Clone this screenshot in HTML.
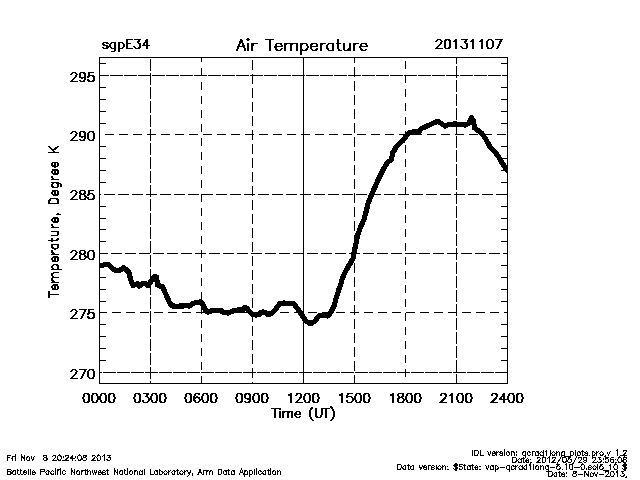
<!DOCTYPE html>
<html><head><meta charset="utf-8"><style>
html,body{margin:0;padding:0;background:#fff;}
svg{display:block;}
text{font-family:"Liberation Sans",sans-serif;fill:#000;}
.h{fill:none;stroke:#000;stroke-width:1;stroke-linecap:square;stroke-linejoin:miter;shape-rendering:crispEdges;}
</style></head><body>
<svg width="640" height="480" viewBox="0 0 640 480">
<rect x="0" y="0" width="640" height="480" fill="#fff"/>
<g fill="#000" shape-rendering="crispEdges">
<rect x="99" y="57" width="409" height="1"/><rect x="99" y="383" width="409" height="1"/><rect x="99" y="57" width="1" height="327"/><rect x="507" y="57" width="1" height="327"/><rect x="100" y="360" width="6" height="1"/><rect x="501" y="360" width="6" height="1"/><rect x="100" y="348" width="6" height="1"/><rect x="501" y="348" width="6" height="1"/><rect x="100" y="336" width="6" height="1"/><rect x="501" y="336" width="6" height="1"/><rect x="100" y="324" width="6" height="1"/><rect x="501" y="324" width="6" height="1"/><rect x="100" y="301" width="6" height="1"/><rect x="501" y="301" width="6" height="1"/><rect x="100" y="289" width="6" height="1"/><rect x="501" y="289" width="6" height="1"/><rect x="100" y="277" width="6" height="1"/><rect x="501" y="277" width="6" height="1"/><rect x="100" y="265" width="6" height="1"/><rect x="501" y="265" width="6" height="1"/><rect x="100" y="241" width="6" height="1"/><rect x="501" y="241" width="6" height="1"/><rect x="100" y="229" width="6" height="1"/><rect x="501" y="229" width="6" height="1"/><rect x="100" y="218" width="6" height="1"/><rect x="501" y="218" width="6" height="1"/><rect x="100" y="206" width="6" height="1"/><rect x="501" y="206" width="6" height="1"/><rect x="100" y="182" width="6" height="1"/><rect x="501" y="182" width="6" height="1"/><rect x="100" y="170" width="6" height="1"/><rect x="501" y="170" width="6" height="1"/><rect x="100" y="158" width="6" height="1"/><rect x="501" y="158" width="6" height="1"/><rect x="100" y="146" width="6" height="1"/><rect x="501" y="146" width="6" height="1"/><rect x="100" y="123" width="6" height="1"/><rect x="501" y="123" width="6" height="1"/><rect x="100" y="111" width="6" height="1"/><rect x="501" y="111" width="6" height="1"/><rect x="100" y="99" width="6" height="1"/><rect x="501" y="99" width="6" height="1"/><rect x="100" y="87" width="6" height="1"/><rect x="501" y="87" width="6" height="1"/><rect x="100" y="63" width="6" height="1"/><rect x="501" y="63" width="6" height="1"/><rect x="100" y="75" width="9" height="1"/><rect x="110" y="75" width="13" height="1"/><rect x="124" y="75" width="13" height="1"/><rect x="138" y="75" width="13" height="1"/><rect x="152" y="75" width="13" height="1"/><rect x="166" y="75" width="13" height="1"/><rect x="180" y="75" width="13" height="1"/><rect x="194" y="75" width="13" height="1"/><rect x="208" y="75" width="13" height="1"/><rect x="222" y="75" width="13" height="1"/><rect x="236" y="75" width="13" height="1"/><rect x="250" y="75" width="13" height="1"/><rect x="264" y="75" width="13" height="1"/><rect x="278" y="75" width="13" height="1"/><rect x="292" y="75" width="13" height="1"/><rect x="306" y="75" width="13" height="1"/><rect x="320" y="75" width="13" height="1"/><rect x="334" y="75" width="13" height="1"/><rect x="348" y="75" width="13" height="1"/><rect x="362" y="75" width="13" height="1"/><rect x="376" y="75" width="13" height="1"/><rect x="390" y="75" width="13" height="1"/><rect x="404" y="75" width="13" height="1"/><rect x="418" y="75" width="13" height="1"/><rect x="432" y="75" width="13" height="1"/><rect x="446" y="75" width="13" height="1"/><rect x="460" y="75" width="13" height="1"/><rect x="474" y="75" width="13" height="1"/><rect x="488" y="75" width="13" height="1"/><rect x="502" y="75" width="5" height="1"/><rect x="105" y="134" width="9" height="1"/><rect x="119" y="134" width="9" height="1"/><rect x="133" y="134" width="9" height="1"/><rect x="147" y="134" width="9" height="1"/><rect x="161" y="134" width="9" height="1"/><rect x="175" y="134" width="9" height="1"/><rect x="189" y="134" width="9" height="1"/><rect x="203" y="134" width="9" height="1"/><rect x="217" y="134" width="9" height="1"/><rect x="231" y="134" width="9" height="1"/><rect x="245" y="134" width="9" height="1"/><rect x="259" y="134" width="9" height="1"/><rect x="273" y="134" width="9" height="1"/><rect x="287" y="134" width="9" height="1"/><rect x="301" y="134" width="9" height="1"/><rect x="315" y="134" width="9" height="1"/><rect x="329" y="134" width="9" height="1"/><rect x="343" y="134" width="9" height="1"/><rect x="357" y="134" width="9" height="1"/><rect x="371" y="134" width="9" height="1"/><rect x="385" y="134" width="9" height="1"/><rect x="399" y="134" width="9" height="1"/><rect x="413" y="134" width="9" height="1"/><rect x="427" y="134" width="9" height="1"/><rect x="441" y="134" width="9" height="1"/><rect x="455" y="134" width="9" height="1"/><rect x="469" y="134" width="9" height="1"/><rect x="483" y="134" width="9" height="1"/><rect x="497" y="134" width="9" height="1"/><rect x="100" y="194" width="1" height="1"/><rect x="104" y="194" width="11" height="1"/><rect x="118" y="194" width="11" height="1"/><rect x="132" y="194" width="11" height="1"/><rect x="146" y="194" width="11" height="1"/><rect x="160" y="194" width="11" height="1"/><rect x="174" y="194" width="11" height="1"/><rect x="188" y="194" width="11" height="1"/><rect x="202" y="194" width="11" height="1"/><rect x="216" y="194" width="11" height="1"/><rect x="230" y="194" width="11" height="1"/><rect x="244" y="194" width="11" height="1"/><rect x="258" y="194" width="11" height="1"/><rect x="272" y="194" width="11" height="1"/><rect x="286" y="194" width="11" height="1"/><rect x="300" y="194" width="11" height="1"/><rect x="314" y="194" width="11" height="1"/><rect x="328" y="194" width="11" height="1"/><rect x="342" y="194" width="11" height="1"/><rect x="356" y="194" width="11" height="1"/><rect x="370" y="194" width="11" height="1"/><rect x="384" y="194" width="11" height="1"/><rect x="398" y="194" width="11" height="1"/><rect x="412" y="194" width="11" height="1"/><rect x="426" y="194" width="11" height="1"/><rect x="440" y="194" width="11" height="1"/><rect x="454" y="194" width="11" height="1"/><rect x="468" y="194" width="11" height="1"/><rect x="482" y="194" width="11" height="1"/><rect x="496" y="194" width="11" height="1"/><rect x="100" y="253" width="8" height="1"/><rect x="111" y="253" width="11" height="1"/><rect x="125" y="253" width="11" height="1"/><rect x="139" y="253" width="11" height="1"/><rect x="153" y="253" width="11" height="1"/><rect x="167" y="253" width="11" height="1"/><rect x="181" y="253" width="11" height="1"/><rect x="195" y="253" width="11" height="1"/><rect x="209" y="253" width="11" height="1"/><rect x="223" y="253" width="11" height="1"/><rect x="237" y="253" width="11" height="1"/><rect x="251" y="253" width="11" height="1"/><rect x="265" y="253" width="11" height="1"/><rect x="279" y="253" width="11" height="1"/><rect x="293" y="253" width="11" height="1"/><rect x="307" y="253" width="11" height="1"/><rect x="321" y="253" width="11" height="1"/><rect x="335" y="253" width="11" height="1"/><rect x="349" y="253" width="11" height="1"/><rect x="363" y="253" width="11" height="1"/><rect x="377" y="253" width="11" height="1"/><rect x="391" y="253" width="11" height="1"/><rect x="405" y="253" width="11" height="1"/><rect x="419" y="253" width="11" height="1"/><rect x="433" y="253" width="11" height="1"/><rect x="447" y="253" width="11" height="1"/><rect x="461" y="253" width="11" height="1"/><rect x="475" y="253" width="11" height="1"/><rect x="489" y="253" width="11" height="1"/><rect x="503" y="253" width="4" height="1"/><rect x="100" y="312" width="7" height="1"/><rect x="112" y="312" width="9" height="1"/><rect x="126" y="312" width="9" height="1"/><rect x="140" y="312" width="9" height="1"/><rect x="154" y="312" width="9" height="1"/><rect x="168" y="312" width="9" height="1"/><rect x="182" y="312" width="9" height="1"/><rect x="196" y="312" width="9" height="1"/><rect x="210" y="312" width="9" height="1"/><rect x="224" y="312" width="9" height="1"/><rect x="238" y="312" width="9" height="1"/><rect x="252" y="312" width="9" height="1"/><rect x="266" y="312" width="9" height="1"/><rect x="280" y="312" width="9" height="1"/><rect x="294" y="312" width="9" height="1"/><rect x="308" y="312" width="9" height="1"/><rect x="322" y="312" width="9" height="1"/><rect x="336" y="312" width="9" height="1"/><rect x="350" y="312" width="9" height="1"/><rect x="364" y="312" width="9" height="1"/><rect x="378" y="312" width="9" height="1"/><rect x="392" y="312" width="9" height="1"/><rect x="406" y="312" width="9" height="1"/><rect x="420" y="312" width="9" height="1"/><rect x="434" y="312" width="9" height="1"/><rect x="448" y="312" width="9" height="1"/><rect x="462" y="312" width="9" height="1"/><rect x="476" y="312" width="9" height="1"/><rect x="490" y="312" width="9" height="1"/><rect x="504" y="312" width="3" height="1"/><rect x="100" y="372" width="2" height="1"/><rect x="103" y="372" width="13" height="1"/><rect x="117" y="372" width="13" height="1"/><rect x="131" y="372" width="13" height="1"/><rect x="145" y="372" width="13" height="1"/><rect x="159" y="372" width="13" height="1"/><rect x="173" y="372" width="13" height="1"/><rect x="187" y="372" width="13" height="1"/><rect x="201" y="372" width="13" height="1"/><rect x="215" y="372" width="13" height="1"/><rect x="229" y="372" width="13" height="1"/><rect x="243" y="372" width="13" height="1"/><rect x="257" y="372" width="13" height="1"/><rect x="271" y="372" width="13" height="1"/><rect x="285" y="372" width="13" height="1"/><rect x="299" y="372" width="13" height="1"/><rect x="313" y="372" width="13" height="1"/><rect x="327" y="372" width="13" height="1"/><rect x="341" y="372" width="13" height="1"/><rect x="355" y="372" width="13" height="1"/><rect x="369" y="372" width="13" height="1"/><rect x="383" y="372" width="13" height="1"/><rect x="397" y="372" width="13" height="1"/><rect x="411" y="372" width="13" height="1"/><rect x="425" y="372" width="13" height="1"/><rect x="439" y="372" width="13" height="1"/><rect x="453" y="372" width="13" height="1"/><rect x="467" y="372" width="13" height="1"/><rect x="481" y="372" width="13" height="1"/><rect x="495" y="372" width="12" height="1"/><rect x="150" y="59" width="1" height="12"/><rect x="150" y="73" width="1" height="12"/><rect x="150" y="87" width="1" height="12"/><rect x="150" y="101" width="1" height="12"/><rect x="150" y="115" width="1" height="12"/><rect x="150" y="129" width="1" height="12"/><rect x="150" y="143" width="1" height="12"/><rect x="150" y="157" width="1" height="12"/><rect x="150" y="171" width="1" height="12"/><rect x="150" y="185" width="1" height="12"/><rect x="150" y="199" width="1" height="12"/><rect x="150" y="213" width="1" height="12"/><rect x="150" y="227" width="1" height="12"/><rect x="150" y="241" width="1" height="12"/><rect x="150" y="255" width="1" height="12"/><rect x="150" y="269" width="1" height="12"/><rect x="150" y="283" width="1" height="12"/><rect x="150" y="297" width="1" height="12"/><rect x="150" y="311" width="1" height="12"/><rect x="150" y="325" width="1" height="12"/><rect x="150" y="339" width="1" height="12"/><rect x="150" y="353" width="1" height="12"/><rect x="150" y="367" width="1" height="12"/><rect x="150" y="381" width="1" height="2"/><rect x="201" y="58" width="1" height="4"/><rect x="201" y="68" width="1" height="8"/><rect x="201" y="82" width="1" height="8"/><rect x="201" y="96" width="1" height="8"/><rect x="201" y="110" width="1" height="8"/><rect x="201" y="124" width="1" height="8"/><rect x="201" y="138" width="1" height="8"/><rect x="201" y="152" width="1" height="8"/><rect x="201" y="166" width="1" height="8"/><rect x="201" y="180" width="1" height="8"/><rect x="201" y="194" width="1" height="8"/><rect x="201" y="208" width="1" height="8"/><rect x="201" y="222" width="1" height="8"/><rect x="201" y="236" width="1" height="8"/><rect x="201" y="250" width="1" height="8"/><rect x="201" y="264" width="1" height="8"/><rect x="201" y="278" width="1" height="8"/><rect x="201" y="292" width="1" height="8"/><rect x="201" y="306" width="1" height="8"/><rect x="201" y="320" width="1" height="8"/><rect x="201" y="334" width="1" height="8"/><rect x="201" y="348" width="1" height="8"/><rect x="201" y="362" width="1" height="8"/><rect x="201" y="376" width="1" height="7"/><rect x="252" y="60" width="1" height="10"/><rect x="252" y="74" width="1" height="10"/><rect x="252" y="88" width="1" height="10"/><rect x="252" y="102" width="1" height="10"/><rect x="252" y="116" width="1" height="10"/><rect x="252" y="130" width="1" height="10"/><rect x="252" y="144" width="1" height="10"/><rect x="252" y="158" width="1" height="10"/><rect x="252" y="172" width="1" height="10"/><rect x="252" y="186" width="1" height="10"/><rect x="252" y="200" width="1" height="10"/><rect x="252" y="214" width="1" height="10"/><rect x="252" y="228" width="1" height="10"/><rect x="252" y="242" width="1" height="10"/><rect x="252" y="256" width="1" height="10"/><rect x="252" y="270" width="1" height="10"/><rect x="252" y="284" width="1" height="10"/><rect x="252" y="298" width="1" height="10"/><rect x="252" y="312" width="1" height="10"/><rect x="252" y="326" width="1" height="10"/><rect x="252" y="340" width="1" height="10"/><rect x="252" y="354" width="1" height="10"/><rect x="252" y="368" width="1" height="10"/><rect x="252" y="382" width="1" height="1"/><rect x="354" y="58" width="1" height="5"/><rect x="354" y="67" width="1" height="10"/><rect x="354" y="81" width="1" height="10"/><rect x="354" y="95" width="1" height="10"/><rect x="354" y="109" width="1" height="10"/><rect x="354" y="123" width="1" height="10"/><rect x="354" y="137" width="1" height="10"/><rect x="354" y="151" width="1" height="10"/><rect x="354" y="165" width="1" height="10"/><rect x="354" y="179" width="1" height="10"/><rect x="354" y="193" width="1" height="10"/><rect x="354" y="207" width="1" height="10"/><rect x="354" y="221" width="1" height="10"/><rect x="354" y="235" width="1" height="10"/><rect x="354" y="249" width="1" height="10"/><rect x="354" y="263" width="1" height="10"/><rect x="354" y="277" width="1" height="10"/><rect x="354" y="291" width="1" height="10"/><rect x="354" y="305" width="1" height="10"/><rect x="354" y="319" width="1" height="10"/><rect x="354" y="333" width="1" height="10"/><rect x="354" y="347" width="1" height="10"/><rect x="354" y="361" width="1" height="10"/><rect x="354" y="375" width="1" height="8"/><rect x="405" y="61" width="1" height="8"/><rect x="405" y="75" width="1" height="8"/><rect x="405" y="89" width="1" height="8"/><rect x="405" y="103" width="1" height="8"/><rect x="405" y="117" width="1" height="8"/><rect x="405" y="131" width="1" height="8"/><rect x="405" y="145" width="1" height="8"/><rect x="405" y="159" width="1" height="8"/><rect x="405" y="173" width="1" height="8"/><rect x="405" y="187" width="1" height="8"/><rect x="405" y="201" width="1" height="8"/><rect x="405" y="215" width="1" height="8"/><rect x="405" y="229" width="1" height="8"/><rect x="405" y="243" width="1" height="8"/><rect x="405" y="257" width="1" height="8"/><rect x="405" y="271" width="1" height="8"/><rect x="405" y="285" width="1" height="8"/><rect x="405" y="299" width="1" height="8"/><rect x="405" y="313" width="1" height="8"/><rect x="405" y="327" width="1" height="8"/><rect x="405" y="341" width="1" height="8"/><rect x="405" y="355" width="1" height="8"/><rect x="405" y="369" width="1" height="8"/><rect x="456" y="58" width="1" height="6"/><rect x="456" y="66" width="1" height="12"/><rect x="456" y="80" width="1" height="12"/><rect x="456" y="94" width="1" height="12"/><rect x="456" y="108" width="1" height="12"/><rect x="456" y="122" width="1" height="12"/><rect x="456" y="136" width="1" height="12"/><rect x="456" y="150" width="1" height="12"/><rect x="456" y="164" width="1" height="12"/><rect x="456" y="178" width="1" height="12"/><rect x="456" y="192" width="1" height="12"/><rect x="456" y="206" width="1" height="12"/><rect x="456" y="220" width="1" height="12"/><rect x="456" y="234" width="1" height="12"/><rect x="456" y="248" width="1" height="12"/><rect x="456" y="262" width="1" height="12"/><rect x="456" y="276" width="1" height="12"/><rect x="456" y="290" width="1" height="12"/><rect x="456" y="304" width="1" height="12"/><rect x="456" y="318" width="1" height="12"/><rect x="456" y="332" width="1" height="12"/><rect x="456" y="346" width="1" height="12"/><rect x="456" y="360" width="1" height="12"/><rect x="456" y="374" width="1" height="9"/><rect x="303" y="57" width="1" height="327"/>
</g>
<defs><clipPath id="pc"><rect x="99" y="57" width="409" height="327"/></clipPath></defs>
<polyline clip-path="url(#pc)" points="99.5,265 102,265.7 105.5,264.3 108.4,264.3 111.3,267.5 114.7,270 118,270.8 120.5,270 123.5,267.5 126.5,270 129,272.5 130,277 131.5,282.5 133,285.5 134.7,284.6 137.6,283.75 139,286 141,285 143,283.5 146,284 148,285.5 150,283 152,279.5 154,277 156.5,277 157.5,285 160,286 162.5,286.5 164,290 167,297 170,303.5 172.5,306 176,306.2 182,306 186,305.8 190,306 192.5,303.5 196,302.5 200,302 201,302.5 203,304.5 204.5,308 206,311 208,312 210,311.5 212,310.5 218,310.8 222,311 224,312.5 228,313 233,311 238,310 243,309.5 245,307.5 247,308.5 250,312 252,314 256,315 259,314.5 261,312.5 263,312 265,312.2 267,314 270,314 272,313 275,310 278,306 280,303.5 284,303 290,303.5 294,304 297,308 300,312 303,317 306,321 309,323 312,323 315,321 318,317 320,315.5 322,315.5 328,316 329,315 331,312 334,306 336.5,297 338.75,290 340.5,285 342.5,278 345.6,271.25 349.2,265 353,258.75 354,252.5 355.3,247 356.5,241 358.1,233.8 361,226 364.2,218.9 366.5,210 368.3,202.6 372.4,193 376.2,184 379.8,176.7 384,168.3 387.6,162.1 391.3,160 392.8,152.7 396.5,146.5 400.6,142.3 403.25,140.2 406.25,135.8 410,132.5 415,131.7 418.3,132.5 421.7,128.3 425,127 428.3,125.5 432.5,123.5 437.5,121.3 441,123.3 445,126 449,124.3 456,124 465,125 469,123.3 471.5,117.5 473.5,121 474.5,128 478,130.4 482,133.5 486,139.5 490,147 494,150.7 498,155.8 502,163 507,170" fill="none" stroke="#000" stroke-width="5.2" stroke-linejoin="round" stroke-linecap="round" shape-rendering="crispEdges"/>
<g>
<g><path d="M107.68 43.83 L107.26 42.98 L105.98 42.55 L104.70 42.55 L103.43 42.98 L103.01 43.83 L103.43 44.67 L104.28 45.10 L106.41 45.52 L107.26 45.95 L107.68 46.80 L107.68 47.23 L107.26 48.08 L105.98 48.50 L104.70 48.50 L103.43 48.08 L103.01 47.23 M115.33 42.55 L115.33 49.35 L114.91 50.62 L114.48 51.05 L113.63 51.48 L112.36 51.48 L111.51 51.05 M115.33 43.83 L114.48 42.98 L113.63 42.55 L112.36 42.55 L111.51 42.98 L110.66 43.83 L110.23 45.10 L110.23 45.95 L110.66 47.23 L111.51 48.08 L112.36 48.50 L113.63 48.50 L114.48 48.08 L115.33 47.23 M118.73 42.55 L118.73 51.48 M118.73 43.83 L119.58 42.98 L120.43 42.55 L121.70 42.55 L122.56 42.98 L123.41 43.83 L123.83 45.10 L123.83 45.95 L123.41 47.23 L122.56 48.08 L121.70 48.50 L120.43 48.50 L119.58 48.08 L118.73 47.23 M126.81 39.58 L126.81 48.50 M126.81 39.58 L132.33 39.58 M126.81 43.83 L130.21 43.83 M126.81 48.50 L132.33 48.50 M135.31 39.58 L139.98 39.58 L137.43 42.98 L138.71 42.98 L139.56 43.40 L139.98 43.83 L140.41 45.10 L140.41 45.95 L139.98 47.23 L139.13 48.08 L137.86 48.50 L136.58 48.50 L135.31 48.08 L134.88 47.65 L134.46 46.80 M147.21 39.58 L142.96 45.52 L149.33 45.52 M147.21 39.58 L147.21 48.50" transform="translate(-0.5,0)" class="h"/><path d="M107.68 43.83 L107.26 42.98 L105.98 42.55 L104.70 42.55 L103.43 42.98 L103.01 43.83 L103.43 44.67 L104.28 45.10 L106.41 45.52 L107.26 45.95 L107.68 46.80 L107.68 47.23 L107.26 48.08 L105.98 48.50 L104.70 48.50 L103.43 48.08 L103.01 47.23 M115.33 42.55 L115.33 49.35 L114.91 50.62 L114.48 51.05 L113.63 51.48 L112.36 51.48 L111.51 51.05 M115.33 43.83 L114.48 42.98 L113.63 42.55 L112.36 42.55 L111.51 42.98 L110.66 43.83 L110.23 45.10 L110.23 45.95 L110.66 47.23 L111.51 48.08 L112.36 48.50 L113.63 48.50 L114.48 48.08 L115.33 47.23 M118.73 42.55 L118.73 51.48 M118.73 43.83 L119.58 42.98 L120.43 42.55 L121.70 42.55 L122.56 42.98 L123.41 43.83 L123.83 45.10 L123.83 45.95 L123.41 47.23 L122.56 48.08 L121.70 48.50 L120.43 48.50 L119.58 48.08 L118.73 47.23 M126.81 39.58 L126.81 48.50 M126.81 39.58 L132.33 39.58 M126.81 43.83 L130.21 43.83 M126.81 48.50 L132.33 48.50 M135.31 39.58 L139.98 39.58 L137.43 42.98 L138.71 42.98 L139.56 43.40 L139.98 43.83 L140.41 45.10 L140.41 45.95 L139.98 47.23 L139.13 48.08 L137.86 48.50 L136.58 48.50 L135.31 48.08 L134.88 47.65 L134.46 46.80 M147.21 39.58 L142.96 45.52 L149.33 45.52 M147.21 39.58 L147.21 48.50" transform="translate(0.5,0)" class="h"/></g><g><path d="M241.21 39.43 L237.00 50.50 M241.21 39.43 L245.43 50.50 M238.58 46.81 L243.85 46.81 M247.54 39.43 L248.06 39.96 L248.59 39.43 L248.06 38.91 L247.54 39.43 M248.06 43.12 L248.06 50.50 M252.28 43.12 L252.28 50.50 M252.28 46.28 L252.81 44.70 L253.86 43.65 L254.91 43.12 L256.50 43.12 M269.67 39.43 L269.67 50.50 M265.98 39.43 L273.36 39.43 M275.47 46.28 L281.79 46.28 L281.79 45.23 L281.26 44.18 L280.74 43.65 L279.68 43.12 L278.10 43.12 L277.05 43.65 L276.00 44.70 L275.47 46.28 L275.47 47.34 L276.00 48.92 L277.05 49.97 L278.10 50.50 L279.68 50.50 L280.74 49.97 L281.79 48.92 M285.48 43.12 L285.48 50.50 M285.48 45.23 L287.06 43.65 L288.12 43.12 L289.70 43.12 L290.75 43.65 L291.28 45.23 L291.28 50.50 M291.28 45.23 L292.86 43.65 L293.91 43.12 L295.49 43.12 L296.55 43.65 L297.07 45.23 L297.07 50.50 M301.29 43.12 L301.29 54.19 M301.29 44.70 L302.35 43.65 L303.40 43.12 L304.98 43.12 L306.03 43.65 L307.09 44.70 L307.62 46.28 L307.62 47.34 L307.09 48.92 L306.03 49.97 L304.98 50.50 L303.40 50.50 L302.35 49.97 L301.29 48.92 M310.78 46.28 L317.10 46.28 L317.10 45.23 L316.57 44.18 L316.05 43.65 L314.99 43.12 L313.41 43.12 L312.36 43.65 L311.30 44.70 L310.78 46.28 L310.78 47.34 L311.30 48.92 L312.36 49.97 L313.41 50.50 L314.99 50.50 L316.05 49.97 L317.10 48.92 M320.79 43.12 L320.79 50.50 M320.79 46.28 L321.32 44.70 L322.37 43.65 L323.43 43.12 L325.01 43.12 M333.44 43.12 L333.44 50.50 M333.44 44.70 L332.38 43.65 L331.33 43.12 L329.75 43.12 L328.69 43.65 L327.64 44.70 L327.11 46.28 L327.11 47.34 L327.64 48.92 L328.69 49.97 L329.75 50.50 L331.33 50.50 L332.38 49.97 L333.44 48.92 M338.18 39.43 L338.18 48.39 L338.71 49.97 L339.76 50.50 L340.82 50.50 M336.60 43.12 L340.29 43.12 M343.98 43.12 L343.98 48.39 L344.50 49.97 L345.56 50.50 L347.14 50.50 L348.19 49.97 L349.77 48.39 M349.77 43.12 L349.77 50.50 M353.99 43.12 L353.99 50.50 M353.99 46.28 L354.52 44.70 L355.57 43.65 L356.63 43.12 L358.21 43.12 M360.31 46.28 L366.64 46.28 L366.64 45.23 L366.11 44.18 L365.59 43.65 L364.53 43.12 L362.95 43.12 L361.90 43.65 L360.84 44.70 L360.31 46.28 L360.31 47.34 L360.84 48.92 L361.90 49.97 L362.95 50.50 L364.53 50.50 L365.59 49.97 L366.64 48.92" transform="translate(-0.5,0)" class="h"/><path d="M241.21 39.43 L237.00 50.50 M241.21 39.43 L245.43 50.50 M238.58 46.81 L243.85 46.81 M247.54 39.43 L248.06 39.96 L248.59 39.43 L248.06 38.91 L247.54 39.43 M248.06 43.12 L248.06 50.50 M252.28 43.12 L252.28 50.50 M252.28 46.28 L252.81 44.70 L253.86 43.65 L254.91 43.12 L256.50 43.12 M269.67 39.43 L269.67 50.50 M265.98 39.43 L273.36 39.43 M275.47 46.28 L281.79 46.28 L281.79 45.23 L281.26 44.18 L280.74 43.65 L279.68 43.12 L278.10 43.12 L277.05 43.65 L276.00 44.70 L275.47 46.28 L275.47 47.34 L276.00 48.92 L277.05 49.97 L278.10 50.50 L279.68 50.50 L280.74 49.97 L281.79 48.92 M285.48 43.12 L285.48 50.50 M285.48 45.23 L287.06 43.65 L288.12 43.12 L289.70 43.12 L290.75 43.65 L291.28 45.23 L291.28 50.50 M291.28 45.23 L292.86 43.65 L293.91 43.12 L295.49 43.12 L296.55 43.65 L297.07 45.23 L297.07 50.50 M301.29 43.12 L301.29 54.19 M301.29 44.70 L302.35 43.65 L303.40 43.12 L304.98 43.12 L306.03 43.65 L307.09 44.70 L307.62 46.28 L307.62 47.34 L307.09 48.92 L306.03 49.97 L304.98 50.50 L303.40 50.50 L302.35 49.97 L301.29 48.92 M310.78 46.28 L317.10 46.28 L317.10 45.23 L316.57 44.18 L316.05 43.65 L314.99 43.12 L313.41 43.12 L312.36 43.65 L311.30 44.70 L310.78 46.28 L310.78 47.34 L311.30 48.92 L312.36 49.97 L313.41 50.50 L314.99 50.50 L316.05 49.97 L317.10 48.92 M320.79 43.12 L320.79 50.50 M320.79 46.28 L321.32 44.70 L322.37 43.65 L323.43 43.12 L325.01 43.12 M333.44 43.12 L333.44 50.50 M333.44 44.70 L332.38 43.65 L331.33 43.12 L329.75 43.12 L328.69 43.65 L327.64 44.70 L327.11 46.28 L327.11 47.34 L327.64 48.92 L328.69 49.97 L329.75 50.50 L331.33 50.50 L332.38 49.97 L333.44 48.92 M338.18 39.43 L338.18 48.39 L338.71 49.97 L339.76 50.50 L340.82 50.50 M336.60 43.12 L340.29 43.12 M343.98 43.12 L343.98 48.39 L344.50 49.97 L345.56 50.50 L347.14 50.50 L348.19 49.97 L349.77 48.39 M349.77 43.12 L349.77 50.50 M353.99 43.12 L353.99 50.50 M353.99 46.28 L354.52 44.70 L355.57 43.65 L356.63 43.12 L358.21 43.12 M360.31 46.28 L366.64 46.28 L366.64 45.23 L366.11 44.18 L365.59 43.65 L364.53 43.12 L362.95 43.12 L361.90 43.65 L360.84 44.70 L360.31 46.28 L360.31 47.34 L360.84 48.92 L361.90 49.97 L362.95 50.50 L364.53 50.50 L365.59 49.97 L366.64 48.92" transform="translate(0.5,0)" class="h"/></g><g><path d="M436.43 41.70 L436.43 41.27 L436.86 40.42 L437.28 40.00 L438.13 39.58 L439.83 39.58 L440.68 40.00 L441.11 40.42 L441.53 41.27 L441.53 42.12 L441.11 42.98 L440.25 44.25 L436.00 48.50 L441.96 48.50 M447.06 39.58 L445.78 40.00 L444.93 41.27 L444.50 43.40 L444.50 44.67 L444.93 46.80 L445.78 48.08 L447.06 48.50 L447.91 48.50 L449.18 48.08 L450.03 46.80 L450.46 44.67 L450.46 43.40 L450.03 41.27 L449.18 40.00 L447.91 39.58 L447.06 39.58 M454.28 41.27 L455.13 40.85 L456.41 39.58 L456.41 48.50 M462.36 39.58 L467.03 39.58 L464.48 42.98 L465.75 42.98 L466.61 43.40 L467.03 43.83 L467.46 45.10 L467.46 45.95 L467.03 47.23 L466.18 48.08 L464.91 48.50 L463.63 48.50 L462.36 48.08 L461.93 47.65 L461.50 46.80 M471.28 41.27 L472.13 40.85 L473.41 39.58 L473.41 48.50 M479.78 41.27 L480.63 40.85 L481.91 39.58 L481.91 48.50 M489.56 39.58 L488.28 40.00 L487.43 41.27 L487.00 43.40 L487.00 44.67 L487.43 46.80 L488.28 48.08 L489.56 48.50 L490.41 48.50 L491.68 48.08 L492.53 46.80 L492.96 44.67 L492.96 43.40 L492.53 41.27 L491.68 40.00 L490.41 39.58 L489.56 39.58 M501.46 39.58 L497.21 48.50 M495.50 39.58 L501.46 39.58" transform="translate(-0.5,0)" class="h"/><path d="M436.43 41.70 L436.43 41.27 L436.86 40.42 L437.28 40.00 L438.13 39.58 L439.83 39.58 L440.68 40.00 L441.11 40.42 L441.53 41.27 L441.53 42.12 L441.11 42.98 L440.25 44.25 L436.00 48.50 L441.96 48.50 M447.06 39.58 L445.78 40.00 L444.93 41.27 L444.50 43.40 L444.50 44.67 L444.93 46.80 L445.78 48.08 L447.06 48.50 L447.91 48.50 L449.18 48.08 L450.03 46.80 L450.46 44.67 L450.46 43.40 L450.03 41.27 L449.18 40.00 L447.91 39.58 L447.06 39.58 M454.28 41.27 L455.13 40.85 L456.41 39.58 L456.41 48.50 M462.36 39.58 L467.03 39.58 L464.48 42.98 L465.75 42.98 L466.61 43.40 L467.03 43.83 L467.46 45.10 L467.46 45.95 L467.03 47.23 L466.18 48.08 L464.91 48.50 L463.63 48.50 L462.36 48.08 L461.93 47.65 L461.50 46.80 M471.28 41.27 L472.13 40.85 L473.41 39.58 L473.41 48.50 M479.78 41.27 L480.63 40.85 L481.91 39.58 L481.91 48.50 M489.56 39.58 L488.28 40.00 L487.43 41.27 L487.00 43.40 L487.00 44.67 L487.43 46.80 L488.28 48.08 L489.56 48.50 L490.41 48.50 L491.68 48.08 L492.53 46.80 L492.96 44.67 L492.96 43.40 L492.53 41.27 L491.68 40.00 L490.41 39.58 L489.56 39.58 M501.46 39.58 L497.21 48.50 M495.50 39.58 L501.46 39.58" transform="translate(0.5,0)" class="h"/></g><g><path d="M71.43 74.67 L71.43 74.24 L71.86 73.39 L72.28 72.96 L73.14 72.53 L74.84 72.53 L75.70 72.96 L76.12 73.39 L76.55 74.24 L76.55 75.09 L76.12 75.95 L75.27 77.23 L71.00 81.50 L76.98 81.50 M85.09 75.52 L84.66 76.80 L83.81 77.66 L82.53 78.08 L82.10 78.08 L80.82 77.66 L79.97 76.80 L79.54 75.52 L79.54 75.09 L79.97 73.81 L80.82 72.96 L82.10 72.53 L82.53 72.53 L83.81 72.96 L84.66 73.81 L85.09 75.52 L85.09 77.66 L84.66 79.79 L83.81 81.07 L82.53 81.50 L81.68 81.50 L80.39 81.07 L79.97 80.22 M93.20 72.53 L88.94 72.53 L88.51 76.38 L88.94 75.95 L90.22 75.52 L91.50 75.52 L92.78 75.95 L93.63 76.80 L94.06 78.08 L94.06 78.94 L93.63 80.22 L92.78 81.07 L91.50 81.50 L90.22 81.50 L88.94 81.07 L88.51 80.65 L88.08 79.79" transform="translate(-0.5,0)" class="h"/><path d="M71.43 74.67 L71.43 74.24 L71.86 73.39 L72.28 72.96 L73.14 72.53 L74.84 72.53 L75.70 72.96 L76.12 73.39 L76.55 74.24 L76.55 75.09 L76.12 75.95 L75.27 77.23 L71.00 81.50 L76.98 81.50 M85.09 75.52 L84.66 76.80 L83.81 77.66 L82.53 78.08 L82.10 78.08 L80.82 77.66 L79.97 76.80 L79.54 75.52 L79.54 75.09 L79.97 73.81 L80.82 72.96 L82.10 72.53 L82.53 72.53 L83.81 72.96 L84.66 73.81 L85.09 75.52 L85.09 77.66 L84.66 79.79 L83.81 81.07 L82.53 81.50 L81.68 81.50 L80.39 81.07 L79.97 80.22 M93.20 72.53 L88.94 72.53 L88.51 76.38 L88.94 75.95 L90.22 75.52 L91.50 75.52 L92.78 75.95 L93.63 76.80 L94.06 78.08 L94.06 78.94 L93.63 80.22 L92.78 81.07 L91.50 81.50 L90.22 81.50 L88.94 81.07 L88.51 80.65 L88.08 79.79" transform="translate(0.5,0)" class="h"/></g><g><path d="M71.43 133.67 L71.43 133.24 L71.86 132.39 L72.28 131.96 L73.14 131.53 L74.84 131.53 L75.70 131.96 L76.12 132.39 L76.55 133.24 L76.55 134.09 L76.12 134.95 L75.27 136.23 L71.00 140.50 L76.98 140.50 M85.09 134.52 L84.66 135.80 L83.81 136.66 L82.53 137.08 L82.10 137.08 L80.82 136.66 L79.97 135.80 L79.54 134.52 L79.54 134.09 L79.97 132.81 L80.82 131.96 L82.10 131.53 L82.53 131.53 L83.81 131.96 L84.66 132.81 L85.09 134.52 L85.09 136.66 L84.66 138.79 L83.81 140.07 L82.53 140.50 L81.68 140.50 L80.39 140.07 L79.97 139.22 M90.64 131.53 L89.36 131.96 L88.51 133.24 L88.08 135.38 L88.08 136.66 L88.51 138.79 L89.36 140.07 L90.64 140.50 L91.50 140.50 L92.78 140.07 L93.63 138.79 L94.06 136.66 L94.06 135.38 L93.63 133.24 L92.78 131.96 L91.50 131.53 L90.64 131.53" transform="translate(-0.5,0)" class="h"/><path d="M71.43 133.67 L71.43 133.24 L71.86 132.39 L72.28 131.96 L73.14 131.53 L74.84 131.53 L75.70 131.96 L76.12 132.39 L76.55 133.24 L76.55 134.09 L76.12 134.95 L75.27 136.23 L71.00 140.50 L76.98 140.50 M85.09 134.52 L84.66 135.80 L83.81 136.66 L82.53 137.08 L82.10 137.08 L80.82 136.66 L79.97 135.80 L79.54 134.52 L79.54 134.09 L79.97 132.81 L80.82 131.96 L82.10 131.53 L82.53 131.53 L83.81 131.96 L84.66 132.81 L85.09 134.52 L85.09 136.66 L84.66 138.79 L83.81 140.07 L82.53 140.50 L81.68 140.50 L80.39 140.07 L79.97 139.22 M90.64 131.53 L89.36 131.96 L88.51 133.24 L88.08 135.38 L88.08 136.66 L88.51 138.79 L89.36 140.07 L90.64 140.50 L91.50 140.50 L92.78 140.07 L93.63 138.79 L94.06 136.66 L94.06 135.38 L93.63 133.24 L92.78 131.96 L91.50 131.53 L90.64 131.53" transform="translate(0.5,0)" class="h"/></g><g><path d="M71.43 192.77 L71.43 192.34 L71.86 191.49 L72.28 191.06 L73.14 190.63 L74.84 190.63 L75.70 191.06 L76.12 191.49 L76.55 192.34 L76.55 193.19 L76.12 194.05 L75.27 195.33 L71.00 199.60 L76.98 199.60 M81.68 190.63 L80.39 191.06 L79.97 191.91 L79.97 192.77 L80.39 193.62 L81.25 194.05 L82.96 194.48 L84.24 194.90 L85.09 195.76 L85.52 196.61 L85.52 197.89 L85.09 198.75 L84.66 199.17 L83.38 199.60 L81.68 199.60 L80.39 199.17 L79.97 198.75 L79.54 197.89 L79.54 196.61 L79.97 195.76 L80.82 194.90 L82.10 194.48 L83.81 194.05 L84.66 193.62 L85.09 192.77 L85.09 191.91 L84.66 191.06 L83.38 190.63 L81.68 190.63 M93.20 190.63 L88.94 190.63 L88.51 194.48 L88.94 194.05 L90.22 193.62 L91.50 193.62 L92.78 194.05 L93.63 194.90 L94.06 196.18 L94.06 197.04 L93.63 198.32 L92.78 199.17 L91.50 199.60 L90.22 199.60 L88.94 199.17 L88.51 198.75 L88.08 197.89" transform="translate(-0.5,0)" class="h"/><path d="M71.43 192.77 L71.43 192.34 L71.86 191.49 L72.28 191.06 L73.14 190.63 L74.84 190.63 L75.70 191.06 L76.12 191.49 L76.55 192.34 L76.55 193.19 L76.12 194.05 L75.27 195.33 L71.00 199.60 L76.98 199.60 M81.68 190.63 L80.39 191.06 L79.97 191.91 L79.97 192.77 L80.39 193.62 L81.25 194.05 L82.96 194.48 L84.24 194.90 L85.09 195.76 L85.52 196.61 L85.52 197.89 L85.09 198.75 L84.66 199.17 L83.38 199.60 L81.68 199.60 L80.39 199.17 L79.97 198.75 L79.54 197.89 L79.54 196.61 L79.97 195.76 L80.82 194.90 L82.10 194.48 L83.81 194.05 L84.66 193.62 L85.09 192.77 L85.09 191.91 L84.66 191.06 L83.38 190.63 L81.68 190.63 M93.20 190.63 L88.94 190.63 L88.51 194.48 L88.94 194.05 L90.22 193.62 L91.50 193.62 L92.78 194.05 L93.63 194.90 L94.06 196.18 L94.06 197.04 L93.63 198.32 L92.78 199.17 L91.50 199.60 L90.22 199.60 L88.94 199.17 L88.51 198.75 L88.08 197.89" transform="translate(0.5,0)" class="h"/></g><g><path d="M71.43 252.67 L71.43 252.24 L71.86 251.39 L72.28 250.96 L73.14 250.53 L74.84 250.53 L75.70 250.96 L76.12 251.39 L76.55 252.24 L76.55 253.09 L76.12 253.95 L75.27 255.23 L71.00 259.50 L76.98 259.50 M81.68 250.53 L80.39 250.96 L79.97 251.81 L79.97 252.67 L80.39 253.52 L81.25 253.95 L82.96 254.38 L84.24 254.80 L85.09 255.66 L85.52 256.51 L85.52 257.79 L85.09 258.65 L84.66 259.07 L83.38 259.50 L81.68 259.50 L80.39 259.07 L79.97 258.65 L79.54 257.79 L79.54 256.51 L79.97 255.66 L80.82 254.80 L82.10 254.38 L83.81 253.95 L84.66 253.52 L85.09 252.67 L85.09 251.81 L84.66 250.96 L83.38 250.53 L81.68 250.53 M90.64 250.53 L89.36 250.96 L88.51 252.24 L88.08 254.38 L88.08 255.66 L88.51 257.79 L89.36 259.07 L90.64 259.50 L91.50 259.50 L92.78 259.07 L93.63 257.79 L94.06 255.66 L94.06 254.38 L93.63 252.24 L92.78 250.96 L91.50 250.53 L90.64 250.53" transform="translate(-0.5,0)" class="h"/><path d="M71.43 252.67 L71.43 252.24 L71.86 251.39 L72.28 250.96 L73.14 250.53 L74.84 250.53 L75.70 250.96 L76.12 251.39 L76.55 252.24 L76.55 253.09 L76.12 253.95 L75.27 255.23 L71.00 259.50 L76.98 259.50 M81.68 250.53 L80.39 250.96 L79.97 251.81 L79.97 252.67 L80.39 253.52 L81.25 253.95 L82.96 254.38 L84.24 254.80 L85.09 255.66 L85.52 256.51 L85.52 257.79 L85.09 258.65 L84.66 259.07 L83.38 259.50 L81.68 259.50 L80.39 259.07 L79.97 258.65 L79.54 257.79 L79.54 256.51 L79.97 255.66 L80.82 254.80 L82.10 254.38 L83.81 253.95 L84.66 253.52 L85.09 252.67 L85.09 251.81 L84.66 250.96 L83.38 250.53 L81.68 250.53 M90.64 250.53 L89.36 250.96 L88.51 252.24 L88.08 254.38 L88.08 255.66 L88.51 257.79 L89.36 259.07 L90.64 259.50 L91.50 259.50 L92.78 259.07 L93.63 257.79 L94.06 255.66 L94.06 254.38 L93.63 252.24 L92.78 250.96 L91.50 250.53 L90.64 250.53" transform="translate(0.5,0)" class="h"/></g><g><path d="M71.43 311.67 L71.43 311.24 L71.86 310.39 L72.28 309.96 L73.14 309.53 L74.84 309.53 L75.70 309.96 L76.12 310.39 L76.55 311.24 L76.55 312.10 L76.12 312.95 L75.27 314.23 L71.00 318.50 L76.98 318.50 M85.52 309.53 L81.25 318.50 M79.54 309.53 L85.52 309.53 M93.20 309.53 L88.94 309.53 L88.51 313.38 L88.94 312.95 L90.22 312.52 L91.50 312.52 L92.78 312.95 L93.63 313.80 L94.06 315.08 L94.06 315.94 L93.63 317.22 L92.78 318.07 L91.50 318.50 L90.22 318.50 L88.94 318.07 L88.51 317.65 L88.08 316.79" transform="translate(-0.5,0)" class="h"/><path d="M71.43 311.67 L71.43 311.24 L71.86 310.39 L72.28 309.96 L73.14 309.53 L74.84 309.53 L75.70 309.96 L76.12 310.39 L76.55 311.24 L76.55 312.10 L76.12 312.95 L75.27 314.23 L71.00 318.50 L76.98 318.50 M85.52 309.53 L81.25 318.50 M79.54 309.53 L85.52 309.53 M93.20 309.53 L88.94 309.53 L88.51 313.38 L88.94 312.95 L90.22 312.52 L91.50 312.52 L92.78 312.95 L93.63 313.80 L94.06 315.08 L94.06 315.94 L93.63 317.22 L92.78 318.07 L91.50 318.50 L90.22 318.50 L88.94 318.07 L88.51 317.65 L88.08 316.79" transform="translate(0.5,0)" class="h"/></g><g><path d="M71.43 371.67 L71.43 371.24 L71.86 370.39 L72.28 369.96 L73.14 369.53 L74.84 369.53 L75.70 369.96 L76.12 370.39 L76.55 371.24 L76.55 372.10 L76.12 372.95 L75.27 374.23 L71.00 378.50 L76.98 378.50 M85.52 369.53 L81.25 378.50 M79.54 369.53 L85.52 369.53 M90.64 369.53 L89.36 369.96 L88.51 371.24 L88.08 373.38 L88.08 374.66 L88.51 376.79 L89.36 378.07 L90.64 378.50 L91.50 378.50 L92.78 378.07 L93.63 376.79 L94.06 374.66 L94.06 373.38 L93.63 371.24 L92.78 369.96 L91.50 369.53 L90.64 369.53" transform="translate(-0.5,0)" class="h"/><path d="M71.43 371.67 L71.43 371.24 L71.86 370.39 L72.28 369.96 L73.14 369.53 L74.84 369.53 L75.70 369.96 L76.12 370.39 L76.55 371.24 L76.55 372.10 L76.12 372.95 L75.27 374.23 L71.00 378.50 L76.98 378.50 M85.52 369.53 L81.25 378.50 M79.54 369.53 L85.52 369.53 M90.64 369.53 L89.36 369.96 L88.51 371.24 L88.08 373.38 L88.08 374.66 L88.51 376.79 L89.36 378.07 L90.64 378.50 L91.50 378.50 L92.78 378.07 L93.63 376.79 L94.06 374.66 L94.06 373.38 L93.63 371.24 L92.78 369.96 L91.50 369.53 L90.64 369.53" transform="translate(0.5,0)" class="h"/></g><g><path d="M85.98 393.47 L84.72 393.90 L83.88 395.19 L83.46 397.34 L83.46 398.63 L83.88 400.78 L84.72 402.07 L85.98 402.50 L86.82 402.50 L88.08 402.07 L88.92 400.78 L89.34 398.63 L89.34 397.34 L88.92 395.19 L88.08 393.90 L86.82 393.47 L85.98 393.47 M94.38 393.47 L93.12 393.90 L92.28 395.19 L91.86 397.34 L91.86 398.63 L92.28 400.78 L93.12 402.07 L94.38 402.50 L95.22 402.50 L96.48 402.07 L97.32 400.78 L97.74 398.63 L97.74 397.34 L97.32 395.19 L96.48 393.90 L95.22 393.47 L94.38 393.47 M102.78 393.47 L101.52 393.90 L100.68 395.19 L100.26 397.34 L100.26 398.63 L100.68 400.78 L101.52 402.07 L102.78 402.50 L103.62 402.50 L104.88 402.07 L105.72 400.78 L106.14 398.63 L106.14 397.34 L105.72 395.19 L104.88 393.90 L103.62 393.47 L102.78 393.47 M111.18 393.47 L109.92 393.90 L109.08 395.19 L108.66 397.34 L108.66 398.63 L109.08 400.78 L109.92 402.07 L111.18 402.50 L112.02 402.50 L113.28 402.07 L114.12 400.78 L114.54 398.63 L114.54 397.34 L114.12 395.19 L113.28 393.90 L112.02 393.47 L111.18 393.47" transform="translate(-0.5,0)" class="h"/><path d="M85.98 393.47 L84.72 393.90 L83.88 395.19 L83.46 397.34 L83.46 398.63 L83.88 400.78 L84.72 402.07 L85.98 402.50 L86.82 402.50 L88.08 402.07 L88.92 400.78 L89.34 398.63 L89.34 397.34 L88.92 395.19 L88.08 393.90 L86.82 393.47 L85.98 393.47 M94.38 393.47 L93.12 393.90 L92.28 395.19 L91.86 397.34 L91.86 398.63 L92.28 400.78 L93.12 402.07 L94.38 402.50 L95.22 402.50 L96.48 402.07 L97.32 400.78 L97.74 398.63 L97.74 397.34 L97.32 395.19 L96.48 393.90 L95.22 393.47 L94.38 393.47 M102.78 393.47 L101.52 393.90 L100.68 395.19 L100.26 397.34 L100.26 398.63 L100.68 400.78 L101.52 402.07 L102.78 402.50 L103.62 402.50 L104.88 402.07 L105.72 400.78 L106.14 398.63 L106.14 397.34 L105.72 395.19 L104.88 393.90 L103.62 393.47 L102.78 393.47 M111.18 393.47 L109.92 393.90 L109.08 395.19 L108.66 397.34 L108.66 398.63 L109.08 400.78 L109.92 402.07 L111.18 402.50 L112.02 402.50 L113.28 402.07 L114.12 400.78 L114.54 398.63 L114.54 397.34 L114.12 395.19 L113.28 393.90 L112.02 393.47 L111.18 393.47" transform="translate(0.5,0)" class="h"/></g><g><path d="M136.98 393.47 L135.72 393.90 L134.88 395.19 L134.46 397.34 L134.46 398.63 L134.88 400.78 L135.72 402.07 L136.98 402.50 L137.82 402.50 L139.08 402.07 L139.92 400.78 L140.34 398.63 L140.34 397.34 L139.92 395.19 L139.08 393.90 L137.82 393.47 L136.98 393.47 M143.70 393.47 L148.32 393.47 L145.80 396.91 L147.06 396.91 L147.90 397.34 L148.32 397.77 L148.74 399.06 L148.74 399.92 L148.32 401.21 L147.48 402.07 L146.22 402.50 L144.96 402.50 L143.70 402.07 L143.28 401.64 L142.86 400.78 M153.78 393.47 L152.52 393.90 L151.68 395.19 L151.26 397.34 L151.26 398.63 L151.68 400.78 L152.52 402.07 L153.78 402.50 L154.62 402.50 L155.88 402.07 L156.72 400.78 L157.14 398.63 L157.14 397.34 L156.72 395.19 L155.88 393.90 L154.62 393.47 L153.78 393.47 M162.18 393.47 L160.92 393.90 L160.08 395.19 L159.66 397.34 L159.66 398.63 L160.08 400.78 L160.92 402.07 L162.18 402.50 L163.02 402.50 L164.28 402.07 L165.12 400.78 L165.54 398.63 L165.54 397.34 L165.12 395.19 L164.28 393.90 L163.02 393.47 L162.18 393.47" transform="translate(-0.5,0)" class="h"/><path d="M136.98 393.47 L135.72 393.90 L134.88 395.19 L134.46 397.34 L134.46 398.63 L134.88 400.78 L135.72 402.07 L136.98 402.50 L137.82 402.50 L139.08 402.07 L139.92 400.78 L140.34 398.63 L140.34 397.34 L139.92 395.19 L139.08 393.90 L137.82 393.47 L136.98 393.47 M143.70 393.47 L148.32 393.47 L145.80 396.91 L147.06 396.91 L147.90 397.34 L148.32 397.77 L148.74 399.06 L148.74 399.92 L148.32 401.21 L147.48 402.07 L146.22 402.50 L144.96 402.50 L143.70 402.07 L143.28 401.64 L142.86 400.78 M153.78 393.47 L152.52 393.90 L151.68 395.19 L151.26 397.34 L151.26 398.63 L151.68 400.78 L152.52 402.07 L153.78 402.50 L154.62 402.50 L155.88 402.07 L156.72 400.78 L157.14 398.63 L157.14 397.34 L156.72 395.19 L155.88 393.90 L154.62 393.47 L153.78 393.47 M162.18 393.47 L160.92 393.90 L160.08 395.19 L159.66 397.34 L159.66 398.63 L160.08 400.78 L160.92 402.07 L162.18 402.50 L163.02 402.50 L164.28 402.07 L165.12 400.78 L165.54 398.63 L165.54 397.34 L165.12 395.19 L164.28 393.90 L163.02 393.47 L162.18 393.47" transform="translate(0.5,0)" class="h"/></g><g><path d="M187.98 393.47 L186.72 393.90 L185.88 395.19 L185.46 397.34 L185.46 398.63 L185.88 400.78 L186.72 402.07 L187.98 402.50 L188.82 402.50 L190.08 402.07 L190.92 400.78 L191.34 398.63 L191.34 397.34 L190.92 395.19 L190.08 393.90 L188.82 393.47 L187.98 393.47 M199.32 394.76 L198.90 393.90 L197.64 393.47 L196.80 393.47 L195.54 393.90 L194.70 395.19 L194.28 397.34 L194.28 399.49 L194.70 401.21 L195.54 402.07 L196.80 402.50 L197.22 402.50 L198.48 402.07 L199.32 401.21 L199.74 399.92 L199.74 399.49 L199.32 398.20 L198.48 397.34 L197.22 396.91 L196.80 396.91 L195.54 397.34 L194.70 398.20 L194.28 399.49 M204.78 393.47 L203.52 393.90 L202.68 395.19 L202.26 397.34 L202.26 398.63 L202.68 400.78 L203.52 402.07 L204.78 402.50 L205.62 402.50 L206.88 402.07 L207.72 400.78 L208.14 398.63 L208.14 397.34 L207.72 395.19 L206.88 393.90 L205.62 393.47 L204.78 393.47 M213.18 393.47 L211.92 393.90 L211.08 395.19 L210.66 397.34 L210.66 398.63 L211.08 400.78 L211.92 402.07 L213.18 402.50 L214.02 402.50 L215.28 402.07 L216.12 400.78 L216.54 398.63 L216.54 397.34 L216.12 395.19 L215.28 393.90 L214.02 393.47 L213.18 393.47" transform="translate(-0.5,0)" class="h"/><path d="M187.98 393.47 L186.72 393.90 L185.88 395.19 L185.46 397.34 L185.46 398.63 L185.88 400.78 L186.72 402.07 L187.98 402.50 L188.82 402.50 L190.08 402.07 L190.92 400.78 L191.34 398.63 L191.34 397.34 L190.92 395.19 L190.08 393.90 L188.82 393.47 L187.98 393.47 M199.32 394.76 L198.90 393.90 L197.64 393.47 L196.80 393.47 L195.54 393.90 L194.70 395.19 L194.28 397.34 L194.28 399.49 L194.70 401.21 L195.54 402.07 L196.80 402.50 L197.22 402.50 L198.48 402.07 L199.32 401.21 L199.74 399.92 L199.74 399.49 L199.32 398.20 L198.48 397.34 L197.22 396.91 L196.80 396.91 L195.54 397.34 L194.70 398.20 L194.28 399.49 M204.78 393.47 L203.52 393.90 L202.68 395.19 L202.26 397.34 L202.26 398.63 L202.68 400.78 L203.52 402.07 L204.78 402.50 L205.62 402.50 L206.88 402.07 L207.72 400.78 L208.14 398.63 L208.14 397.34 L207.72 395.19 L206.88 393.90 L205.62 393.47 L204.78 393.47 M213.18 393.47 L211.92 393.90 L211.08 395.19 L210.66 397.34 L210.66 398.63 L211.08 400.78 L211.92 402.07 L213.18 402.50 L214.02 402.50 L215.28 402.07 L216.12 400.78 L216.54 398.63 L216.54 397.34 L216.12 395.19 L215.28 393.90 L214.02 393.47 L213.18 393.47" transform="translate(0.5,0)" class="h"/></g><g><path d="M238.98 393.47 L237.72 393.90 L236.88 395.19 L236.46 397.34 L236.46 398.63 L236.88 400.78 L237.72 402.07 L238.98 402.50 L239.82 402.50 L241.08 402.07 L241.92 400.78 L242.34 398.63 L242.34 397.34 L241.92 395.19 L241.08 393.90 L239.82 393.47 L238.98 393.47 M250.32 396.48 L249.90 397.77 L249.06 398.63 L247.80 399.06 L247.38 399.06 L246.12 398.63 L245.28 397.77 L244.86 396.48 L244.86 396.05 L245.28 394.76 L246.12 393.90 L247.38 393.47 L247.80 393.47 L249.06 393.90 L249.90 394.76 L250.32 396.48 L250.32 398.63 L249.90 400.78 L249.06 402.07 L247.80 402.50 L246.96 402.50 L245.70 402.07 L245.28 401.21 M255.78 393.47 L254.52 393.90 L253.68 395.19 L253.26 397.34 L253.26 398.63 L253.68 400.78 L254.52 402.07 L255.78 402.50 L256.62 402.50 L257.88 402.07 L258.72 400.78 L259.14 398.63 L259.14 397.34 L258.72 395.19 L257.88 393.90 L256.62 393.47 L255.78 393.47 M264.18 393.47 L262.92 393.90 L262.08 395.19 L261.66 397.34 L261.66 398.63 L262.08 400.78 L262.92 402.07 L264.18 402.50 L265.02 402.50 L266.28 402.07 L267.12 400.78 L267.54 398.63 L267.54 397.34 L267.12 395.19 L266.28 393.90 L265.02 393.47 L264.18 393.47" transform="translate(-0.5,0)" class="h"/><path d="M238.98 393.47 L237.72 393.90 L236.88 395.19 L236.46 397.34 L236.46 398.63 L236.88 400.78 L237.72 402.07 L238.98 402.50 L239.82 402.50 L241.08 402.07 L241.92 400.78 L242.34 398.63 L242.34 397.34 L241.92 395.19 L241.08 393.90 L239.82 393.47 L238.98 393.47 M250.32 396.48 L249.90 397.77 L249.06 398.63 L247.80 399.06 L247.38 399.06 L246.12 398.63 L245.28 397.77 L244.86 396.48 L244.86 396.05 L245.28 394.76 L246.12 393.90 L247.38 393.47 L247.80 393.47 L249.06 393.90 L249.90 394.76 L250.32 396.48 L250.32 398.63 L249.90 400.78 L249.06 402.07 L247.80 402.50 L246.96 402.50 L245.70 402.07 L245.28 401.21 M255.78 393.47 L254.52 393.90 L253.68 395.19 L253.26 397.34 L253.26 398.63 L253.68 400.78 L254.52 402.07 L255.78 402.50 L256.62 402.50 L257.88 402.07 L258.72 400.78 L259.14 398.63 L259.14 397.34 L258.72 395.19 L257.88 393.90 L256.62 393.47 L255.78 393.47 M264.18 393.47 L262.92 393.90 L262.08 395.19 L261.66 397.34 L261.66 398.63 L262.08 400.78 L262.92 402.07 L264.18 402.50 L265.02 402.50 L266.28 402.07 L267.12 400.78 L267.54 398.63 L267.54 397.34 L267.12 395.19 L266.28 393.90 L265.02 393.47 L264.18 393.47" transform="translate(0.5,0)" class="h"/></g><g><path d="M288.72 395.19 L289.56 394.76 L290.82 393.47 L290.82 402.50 M296.28 395.62 L296.28 395.19 L296.70 394.33 L297.12 393.90 L297.96 393.47 L299.64 393.47 L300.48 393.90 L300.90 394.33 L301.32 395.19 L301.32 396.05 L300.90 396.91 L300.06 398.20 L295.86 402.50 L301.74 402.50 M306.78 393.47 L305.52 393.90 L304.68 395.19 L304.26 397.34 L304.26 398.63 L304.68 400.78 L305.52 402.07 L306.78 402.50 L307.62 402.50 L308.88 402.07 L309.72 400.78 L310.14 398.63 L310.14 397.34 L309.72 395.19 L308.88 393.90 L307.62 393.47 L306.78 393.47 M315.18 393.47 L313.92 393.90 L313.08 395.19 L312.66 397.34 L312.66 398.63 L313.08 400.78 L313.92 402.07 L315.18 402.50 L316.02 402.50 L317.28 402.07 L318.12 400.78 L318.54 398.63 L318.54 397.34 L318.12 395.19 L317.28 393.90 L316.02 393.47 L315.18 393.47" transform="translate(-0.5,0)" class="h"/><path d="M288.72 395.19 L289.56 394.76 L290.82 393.47 L290.82 402.50 M296.28 395.62 L296.28 395.19 L296.70 394.33 L297.12 393.90 L297.96 393.47 L299.64 393.47 L300.48 393.90 L300.90 394.33 L301.32 395.19 L301.32 396.05 L300.90 396.91 L300.06 398.20 L295.86 402.50 L301.74 402.50 M306.78 393.47 L305.52 393.90 L304.68 395.19 L304.26 397.34 L304.26 398.63 L304.68 400.78 L305.52 402.07 L306.78 402.50 L307.62 402.50 L308.88 402.07 L309.72 400.78 L310.14 398.63 L310.14 397.34 L309.72 395.19 L308.88 393.90 L307.62 393.47 L306.78 393.47 M315.18 393.47 L313.92 393.90 L313.08 395.19 L312.66 397.34 L312.66 398.63 L313.08 400.78 L313.92 402.07 L315.18 402.50 L316.02 402.50 L317.28 402.07 L318.12 400.78 L318.54 398.63 L318.54 397.34 L318.12 395.19 L317.28 393.90 L316.02 393.47 L315.18 393.47" transform="translate(0.5,0)" class="h"/></g><g><path d="M339.72 395.19 L340.56 394.76 L341.82 393.47 L341.82 402.50 M351.90 393.47 L347.70 393.47 L347.28 397.34 L347.70 396.91 L348.96 396.48 L350.22 396.48 L351.48 396.91 L352.32 397.77 L352.74 399.06 L352.74 399.92 L352.32 401.21 L351.48 402.07 L350.22 402.50 L348.96 402.50 L347.70 402.07 L347.28 401.64 L346.86 400.78 M357.78 393.47 L356.52 393.90 L355.68 395.19 L355.26 397.34 L355.26 398.63 L355.68 400.78 L356.52 402.07 L357.78 402.50 L358.62 402.50 L359.88 402.07 L360.72 400.78 L361.14 398.63 L361.14 397.34 L360.72 395.19 L359.88 393.90 L358.62 393.47 L357.78 393.47 M366.18 393.47 L364.92 393.90 L364.08 395.19 L363.66 397.34 L363.66 398.63 L364.08 400.78 L364.92 402.07 L366.18 402.50 L367.02 402.50 L368.28 402.07 L369.12 400.78 L369.54 398.63 L369.54 397.34 L369.12 395.19 L368.28 393.90 L367.02 393.47 L366.18 393.47" transform="translate(-0.5,0)" class="h"/><path d="M339.72 395.19 L340.56 394.76 L341.82 393.47 L341.82 402.50 M351.90 393.47 L347.70 393.47 L347.28 397.34 L347.70 396.91 L348.96 396.48 L350.22 396.48 L351.48 396.91 L352.32 397.77 L352.74 399.06 L352.74 399.92 L352.32 401.21 L351.48 402.07 L350.22 402.50 L348.96 402.50 L347.70 402.07 L347.28 401.64 L346.86 400.78 M357.78 393.47 L356.52 393.90 L355.68 395.19 L355.26 397.34 L355.26 398.63 L355.68 400.78 L356.52 402.07 L357.78 402.50 L358.62 402.50 L359.88 402.07 L360.72 400.78 L361.14 398.63 L361.14 397.34 L360.72 395.19 L359.88 393.90 L358.62 393.47 L357.78 393.47 M366.18 393.47 L364.92 393.90 L364.08 395.19 L363.66 397.34 L363.66 398.63 L364.08 400.78 L364.92 402.07 L366.18 402.50 L367.02 402.50 L368.28 402.07 L369.12 400.78 L369.54 398.63 L369.54 397.34 L369.12 395.19 L368.28 393.90 L367.02 393.47 L366.18 393.47" transform="translate(0.5,0)" class="h"/></g><g><path d="M390.72 395.19 L391.56 394.76 L392.82 393.47 L392.82 402.50 M399.96 393.47 L398.70 393.90 L398.28 394.76 L398.28 395.62 L398.70 396.48 L399.54 396.91 L401.22 397.34 L402.48 397.77 L403.32 398.63 L403.74 399.49 L403.74 400.78 L403.32 401.64 L402.90 402.07 L401.64 402.50 L399.96 402.50 L398.70 402.07 L398.28 401.64 L397.86 400.78 L397.86 399.49 L398.28 398.63 L399.12 397.77 L400.38 397.34 L402.06 396.91 L402.90 396.48 L403.32 395.62 L403.32 394.76 L402.90 393.90 L401.64 393.47 L399.96 393.47 M408.78 393.47 L407.52 393.90 L406.68 395.19 L406.26 397.34 L406.26 398.63 L406.68 400.78 L407.52 402.07 L408.78 402.50 L409.62 402.50 L410.88 402.07 L411.72 400.78 L412.14 398.63 L412.14 397.34 L411.72 395.19 L410.88 393.90 L409.62 393.47 L408.78 393.47 M417.18 393.47 L415.92 393.90 L415.08 395.19 L414.66 397.34 L414.66 398.63 L415.08 400.78 L415.92 402.07 L417.18 402.50 L418.02 402.50 L419.28 402.07 L420.12 400.78 L420.54 398.63 L420.54 397.34 L420.12 395.19 L419.28 393.90 L418.02 393.47 L417.18 393.47" transform="translate(-0.5,0)" class="h"/><path d="M390.72 395.19 L391.56 394.76 L392.82 393.47 L392.82 402.50 M399.96 393.47 L398.70 393.90 L398.28 394.76 L398.28 395.62 L398.70 396.48 L399.54 396.91 L401.22 397.34 L402.48 397.77 L403.32 398.63 L403.74 399.49 L403.74 400.78 L403.32 401.64 L402.90 402.07 L401.64 402.50 L399.96 402.50 L398.70 402.07 L398.28 401.64 L397.86 400.78 L397.86 399.49 L398.28 398.63 L399.12 397.77 L400.38 397.34 L402.06 396.91 L402.90 396.48 L403.32 395.62 L403.32 394.76 L402.90 393.90 L401.64 393.47 L399.96 393.47 M408.78 393.47 L407.52 393.90 L406.68 395.19 L406.26 397.34 L406.26 398.63 L406.68 400.78 L407.52 402.07 L408.78 402.50 L409.62 402.50 L410.88 402.07 L411.72 400.78 L412.14 398.63 L412.14 397.34 L411.72 395.19 L410.88 393.90 L409.62 393.47 L408.78 393.47 M417.18 393.47 L415.92 393.90 L415.08 395.19 L414.66 397.34 L414.66 398.63 L415.08 400.78 L415.92 402.07 L417.18 402.50 L418.02 402.50 L419.28 402.07 L420.12 400.78 L420.54 398.63 L420.54 397.34 L420.12 395.19 L419.28 393.90 L418.02 393.47 L417.18 393.47" transform="translate(0.5,0)" class="h"/></g><g><path d="M440.88 395.62 L440.88 395.19 L441.30 394.33 L441.72 393.90 L442.56 393.47 L444.24 393.47 L445.08 393.90 L445.50 394.33 L445.92 395.19 L445.92 396.05 L445.50 396.91 L444.66 398.20 L440.46 402.50 L446.34 402.50 M450.12 395.19 L450.96 394.76 L452.22 393.47 L452.22 402.50 M459.78 393.47 L458.52 393.90 L457.68 395.19 L457.26 397.34 L457.26 398.63 L457.68 400.78 L458.52 402.07 L459.78 402.50 L460.62 402.50 L461.88 402.07 L462.72 400.78 L463.14 398.63 L463.14 397.34 L462.72 395.19 L461.88 393.90 L460.62 393.47 L459.78 393.47 M468.18 393.47 L466.92 393.90 L466.08 395.19 L465.66 397.34 L465.66 398.63 L466.08 400.78 L466.92 402.07 L468.18 402.50 L469.02 402.50 L470.28 402.07 L471.12 400.78 L471.54 398.63 L471.54 397.34 L471.12 395.19 L470.28 393.90 L469.02 393.47 L468.18 393.47" transform="translate(-0.5,0)" class="h"/><path d="M440.88 395.62 L440.88 395.19 L441.30 394.33 L441.72 393.90 L442.56 393.47 L444.24 393.47 L445.08 393.90 L445.50 394.33 L445.92 395.19 L445.92 396.05 L445.50 396.91 L444.66 398.20 L440.46 402.50 L446.34 402.50 M450.12 395.19 L450.96 394.76 L452.22 393.47 L452.22 402.50 M459.78 393.47 L458.52 393.90 L457.68 395.19 L457.26 397.34 L457.26 398.63 L457.68 400.78 L458.52 402.07 L459.78 402.50 L460.62 402.50 L461.88 402.07 L462.72 400.78 L463.14 398.63 L463.14 397.34 L462.72 395.19 L461.88 393.90 L460.62 393.47 L459.78 393.47 M468.18 393.47 L466.92 393.90 L466.08 395.19 L465.66 397.34 L465.66 398.63 L466.08 400.78 L466.92 402.07 L468.18 402.50 L469.02 402.50 L470.28 402.07 L471.12 400.78 L471.54 398.63 L471.54 397.34 L471.12 395.19 L470.28 393.90 L469.02 393.47 L468.18 393.47" transform="translate(0.5,0)" class="h"/></g><g><path d="M491.88 395.62 L491.88 395.19 L492.30 394.33 L492.72 393.90 L493.56 393.47 L495.24 393.47 L496.08 393.90 L496.50 394.33 L496.92 395.19 L496.92 396.05 L496.50 396.91 L495.66 398.20 L491.46 402.50 L497.34 402.50 M504.06 393.47 L499.86 399.49 L506.16 399.49 M504.06 393.47 L504.06 402.50 M510.78 393.47 L509.52 393.90 L508.68 395.19 L508.26 397.34 L508.26 398.63 L508.68 400.78 L509.52 402.07 L510.78 402.50 L511.62 402.50 L512.88 402.07 L513.72 400.78 L514.14 398.63 L514.14 397.34 L513.72 395.19 L512.88 393.90 L511.62 393.47 L510.78 393.47 M519.18 393.47 L517.92 393.90 L517.08 395.19 L516.66 397.34 L516.66 398.63 L517.08 400.78 L517.92 402.07 L519.18 402.50 L520.02 402.50 L521.28 402.07 L522.12 400.78 L522.54 398.63 L522.54 397.34 L522.12 395.19 L521.28 393.90 L520.02 393.47 L519.18 393.47" transform="translate(-0.5,0)" class="h"/><path d="M491.88 395.62 L491.88 395.19 L492.30 394.33 L492.72 393.90 L493.56 393.47 L495.24 393.47 L496.08 393.90 L496.50 394.33 L496.92 395.19 L496.92 396.05 L496.50 396.91 L495.66 398.20 L491.46 402.50 L497.34 402.50 M504.06 393.47 L499.86 399.49 L506.16 399.49 M504.06 393.47 L504.06 402.50 M510.78 393.47 L509.52 393.90 L508.68 395.19 L508.26 397.34 L508.26 398.63 L508.68 400.78 L509.52 402.07 L510.78 402.50 L511.62 402.50 L512.88 402.07 L513.72 400.78 L514.14 398.63 L514.14 397.34 L513.72 395.19 L512.88 393.90 L511.62 393.47 L510.78 393.47 M519.18 393.47 L517.92 393.90 L517.08 395.19 L516.66 397.34 L516.66 398.63 L517.08 400.78 L517.92 402.07 L519.18 402.50 L520.02 402.50 L521.28 402.07 L522.12 400.78 L522.54 398.63 L522.54 397.34 L522.12 395.19 L521.28 393.90 L520.02 393.47 L519.18 393.47" transform="translate(0.5,0)" class="h"/></g><g><path d="M274.91 408.68 L274.91 417.50 M272.00 408.68 L277.82 408.68 M279.48 408.68 L279.90 409.10 L280.32 408.68 L279.90 408.26 L279.48 408.68 M279.90 411.62 L279.90 417.50 M283.23 411.62 L283.23 417.50 M283.23 413.30 L284.48 412.04 L285.31 411.62 L286.56 411.62 L287.39 412.04 L287.80 413.30 L287.80 417.50 M287.80 413.30 L289.05 412.04 L289.88 411.62 L291.13 411.62 L291.96 412.04 L292.38 413.30 L292.38 417.50 M295.29 414.14 L300.28 414.14 L300.28 413.30 L299.87 412.46 L299.45 412.04 L298.62 411.62 L297.37 411.62 L296.54 412.04 L295.71 412.88 L295.29 414.14 L295.29 414.98 L295.71 416.24 L296.54 417.08 L297.37 417.50 L298.62 417.50 L299.45 417.08 L300.28 416.24 M312.76 407.00 L311.93 407.84 L311.10 409.10 L310.27 410.78 L309.85 412.88 L309.85 414.56 L310.27 416.66 L311.10 418.34 L311.93 419.60 L312.76 420.44 M315.68 408.68 L315.68 414.98 L316.09 416.24 L316.92 417.08 L318.17 417.50 L319.00 417.50 L320.25 417.08 L321.08 416.24 L321.50 414.98 L321.50 408.68 M326.49 408.68 L326.49 417.50 M323.58 408.68 L329.40 408.68 M331.07 407.00 L331.90 407.84 L332.73 409.10 L333.56 410.78 L333.98 412.88 L333.98 414.56 L333.56 416.66 L332.73 418.34 L331.90 419.60 L331.07 420.44" transform="translate(-0.5,0)" class="h"/><path d="M274.91 408.68 L274.91 417.50 M272.00 408.68 L277.82 408.68 M279.48 408.68 L279.90 409.10 L280.32 408.68 L279.90 408.26 L279.48 408.68 M279.90 411.62 L279.90 417.50 M283.23 411.62 L283.23 417.50 M283.23 413.30 L284.48 412.04 L285.31 411.62 L286.56 411.62 L287.39 412.04 L287.80 413.30 L287.80 417.50 M287.80 413.30 L289.05 412.04 L289.88 411.62 L291.13 411.62 L291.96 412.04 L292.38 413.30 L292.38 417.50 M295.29 414.14 L300.28 414.14 L300.28 413.30 L299.87 412.46 L299.45 412.04 L298.62 411.62 L297.37 411.62 L296.54 412.04 L295.71 412.88 L295.29 414.14 L295.29 414.98 L295.71 416.24 L296.54 417.08 L297.37 417.50 L298.62 417.50 L299.45 417.08 L300.28 416.24 M312.76 407.00 L311.93 407.84 L311.10 409.10 L310.27 410.78 L309.85 412.88 L309.85 414.56 L310.27 416.66 L311.10 418.34 L311.93 419.60 L312.76 420.44 M315.68 408.68 L315.68 414.98 L316.09 416.24 L316.92 417.08 L318.17 417.50 L319.00 417.50 L320.25 417.08 L321.08 416.24 L321.50 414.98 L321.50 408.68 M326.49 408.68 L326.49 417.50 M323.58 408.68 L329.40 408.68 M331.07 407.00 L331.90 407.84 L332.73 409.10 L333.56 410.78 L333.98 412.88 L333.98 414.56 L333.56 416.66 L332.73 418.34 L331.90 419.60 L331.07 420.44" transform="translate(0.5,0)" class="h"/></g><g transform="translate(-0.5,0)"><path transform="translate(58.0,297.92) rotate(-90)" d="M3.34 -8.61 L3.34 0.00 M0.42 -8.61 L6.27 -8.61 M7.94 -3.28 L12.96 -3.28 L12.96 -4.10 L12.54 -4.92 L12.12 -5.33 L11.29 -5.74 L10.03 -5.74 L9.20 -5.33 L8.36 -4.51 L7.94 -3.28 L7.94 -2.46 L8.36 -1.23 L9.20 -0.41 L10.03 0.00 L11.29 0.00 L12.12 -0.41 L12.96 -1.23 M15.88 -5.74 L15.88 0.00 M15.88 -4.10 L17.14 -5.33 L17.97 -5.74 L19.23 -5.74 L20.06 -5.33 L20.48 -4.10 L20.48 0.00 M20.48 -4.10 L21.74 -5.33 L22.57 -5.74 L23.83 -5.74 L24.66 -5.33 L25.08 -4.10 L25.08 0.00 M28.42 -5.74 L28.42 2.87 M28.42 -4.51 L29.26 -5.33 L30.10 -5.74 L31.35 -5.74 L32.19 -5.33 L33.02 -4.51 L33.44 -3.28 L33.44 -2.46 L33.02 -1.23 L32.19 -0.41 L31.35 0.00 L30.10 0.00 L29.26 -0.41 L28.42 -1.23 M35.95 -3.28 L40.96 -3.28 L40.96 -4.10 L40.55 -4.92 L40.13 -5.33 L39.29 -5.74 L38.04 -5.74 L37.20 -5.33 L36.37 -4.51 L35.95 -3.28 L35.95 -2.46 L36.37 -1.23 L37.20 -0.41 L38.04 0.00 L39.29 0.00 L40.13 -0.41 L40.96 -1.23 M43.89 -5.74 L43.89 0.00 M43.89 -3.28 L44.31 -4.51 L45.14 -5.33 L45.98 -5.74 L47.23 -5.74 M53.92 -5.74 L53.92 0.00 M53.92 -4.51 L53.09 -5.33 L52.25 -5.74 L51.00 -5.74 L50.16 -5.33 L49.32 -4.51 L48.91 -3.28 L48.91 -2.46 L49.32 -1.23 L50.16 -0.41 L51.00 0.00 L52.25 0.00 L53.09 -0.41 L53.92 -1.23 M57.68 -8.61 L57.68 -1.64 L58.10 -0.41 L58.94 0.00 L59.77 0.00 M56.43 -5.74 L59.36 -5.74 M62.28 -5.74 L62.28 -1.64 L62.70 -0.41 L63.54 0.00 L64.79 0.00 L65.63 -0.41 L66.88 -1.64 M66.88 -5.74 L66.88 0.00 M70.22 -5.74 L70.22 0.00 M70.22 -3.28 L70.64 -4.51 L71.48 -5.33 L72.31 -5.74 L73.57 -5.74 M75.24 -3.28 L80.26 -3.28 L80.26 -4.10 L79.84 -4.92 L79.42 -5.33 L78.58 -5.74 L77.33 -5.74 L76.49 -5.33 L75.66 -4.51 L75.24 -3.28 L75.24 -2.46 L75.66 -1.23 L76.49 -0.41 L77.33 0.00 L78.58 0.00 L79.42 -0.41 L80.26 -1.23 M84.02 -0.41 L83.60 0.00 L83.18 -0.41 L83.60 -0.82 L84.02 -0.41 L84.02 0.41 L83.60 1.23 L83.18 1.64 M94.05 -8.61 L94.05 0.00 M94.05 -8.61 L96.98 -8.61 L98.23 -8.20 L99.07 -7.38 L99.48 -6.56 L99.90 -5.33 L99.90 -3.28 L99.48 -2.05 L99.07 -1.23 L98.23 -0.41 L96.98 0.00 L94.05 0.00 M102.41 -3.28 L107.43 -3.28 L107.43 -4.10 L107.01 -4.92 L106.59 -5.33 L105.75 -5.74 L104.50 -5.74 L103.66 -5.33 L102.83 -4.51 L102.41 -3.28 L102.41 -2.46 L102.83 -1.23 L103.66 -0.41 L104.50 0.00 L105.75 0.00 L106.59 -0.41 L107.43 -1.23 M114.95 -5.74 L114.95 0.82 L114.53 2.05 L114.11 2.46 L113.28 2.87 L112.02 2.87 L111.19 2.46 M114.95 -4.51 L114.11 -5.33 L113.28 -5.74 L112.02 -5.74 L111.19 -5.33 L110.35 -4.51 L109.93 -3.28 L109.93 -2.46 L110.35 -1.23 L111.19 -0.41 L112.02 0.00 L113.28 0.00 L114.11 -0.41 L114.95 -1.23 M118.29 -5.74 L118.29 0.00 M118.29 -3.28 L118.71 -4.51 L119.55 -5.33 L120.38 -5.74 L121.64 -5.74 M123.31 -3.28 L128.33 -3.28 L128.33 -4.10 L127.91 -4.92 L127.49 -5.33 L126.65 -5.74 L125.40 -5.74 L124.56 -5.33 L123.73 -4.51 L123.31 -3.28 L123.31 -2.46 L123.73 -1.23 L124.56 -0.41 L125.40 0.00 L126.65 0.00 L127.49 -0.41 L128.33 -1.23 M130.83 -3.28 L135.85 -3.28 L135.85 -4.10 L135.43 -4.92 L135.01 -5.33 L134.18 -5.74 L132.92 -5.74 L132.09 -5.33 L131.25 -4.51 L130.83 -3.28 L130.83 -2.46 L131.25 -1.23 L132.09 -0.41 L132.92 0.00 L134.18 0.00 L135.01 -0.41 L135.85 -1.23 M145.46 -8.61 L145.46 0.00 M151.32 -8.61 L145.46 -2.87 M147.55 -4.92 L151.32 0.00" class="h"/></g><g transform="translate(0.5,0)"><path transform="translate(58.0,297.92) rotate(-90)" d="M3.34 -8.61 L3.34 0.00 M0.42 -8.61 L6.27 -8.61 M7.94 -3.28 L12.96 -3.28 L12.96 -4.10 L12.54 -4.92 L12.12 -5.33 L11.29 -5.74 L10.03 -5.74 L9.20 -5.33 L8.36 -4.51 L7.94 -3.28 L7.94 -2.46 L8.36 -1.23 L9.20 -0.41 L10.03 0.00 L11.29 0.00 L12.12 -0.41 L12.96 -1.23 M15.88 -5.74 L15.88 0.00 M15.88 -4.10 L17.14 -5.33 L17.97 -5.74 L19.23 -5.74 L20.06 -5.33 L20.48 -4.10 L20.48 0.00 M20.48 -4.10 L21.74 -5.33 L22.57 -5.74 L23.83 -5.74 L24.66 -5.33 L25.08 -4.10 L25.08 0.00 M28.42 -5.74 L28.42 2.87 M28.42 -4.51 L29.26 -5.33 L30.10 -5.74 L31.35 -5.74 L32.19 -5.33 L33.02 -4.51 L33.44 -3.28 L33.44 -2.46 L33.02 -1.23 L32.19 -0.41 L31.35 0.00 L30.10 0.00 L29.26 -0.41 L28.42 -1.23 M35.95 -3.28 L40.96 -3.28 L40.96 -4.10 L40.55 -4.92 L40.13 -5.33 L39.29 -5.74 L38.04 -5.74 L37.20 -5.33 L36.37 -4.51 L35.95 -3.28 L35.95 -2.46 L36.37 -1.23 L37.20 -0.41 L38.04 0.00 L39.29 0.00 L40.13 -0.41 L40.96 -1.23 M43.89 -5.74 L43.89 0.00 M43.89 -3.28 L44.31 -4.51 L45.14 -5.33 L45.98 -5.74 L47.23 -5.74 M53.92 -5.74 L53.92 0.00 M53.92 -4.51 L53.09 -5.33 L52.25 -5.74 L51.00 -5.74 L50.16 -5.33 L49.32 -4.51 L48.91 -3.28 L48.91 -2.46 L49.32 -1.23 L50.16 -0.41 L51.00 0.00 L52.25 0.00 L53.09 -0.41 L53.92 -1.23 M57.68 -8.61 L57.68 -1.64 L58.10 -0.41 L58.94 0.00 L59.77 0.00 M56.43 -5.74 L59.36 -5.74 M62.28 -5.74 L62.28 -1.64 L62.70 -0.41 L63.54 0.00 L64.79 0.00 L65.63 -0.41 L66.88 -1.64 M66.88 -5.74 L66.88 0.00 M70.22 -5.74 L70.22 0.00 M70.22 -3.28 L70.64 -4.51 L71.48 -5.33 L72.31 -5.74 L73.57 -5.74 M75.24 -3.28 L80.26 -3.28 L80.26 -4.10 L79.84 -4.92 L79.42 -5.33 L78.58 -5.74 L77.33 -5.74 L76.49 -5.33 L75.66 -4.51 L75.24 -3.28 L75.24 -2.46 L75.66 -1.23 L76.49 -0.41 L77.33 0.00 L78.58 0.00 L79.42 -0.41 L80.26 -1.23 M84.02 -0.41 L83.60 0.00 L83.18 -0.41 L83.60 -0.82 L84.02 -0.41 L84.02 0.41 L83.60 1.23 L83.18 1.64 M94.05 -8.61 L94.05 0.00 M94.05 -8.61 L96.98 -8.61 L98.23 -8.20 L99.07 -7.38 L99.48 -6.56 L99.90 -5.33 L99.90 -3.28 L99.48 -2.05 L99.07 -1.23 L98.23 -0.41 L96.98 0.00 L94.05 0.00 M102.41 -3.28 L107.43 -3.28 L107.43 -4.10 L107.01 -4.92 L106.59 -5.33 L105.75 -5.74 L104.50 -5.74 L103.66 -5.33 L102.83 -4.51 L102.41 -3.28 L102.41 -2.46 L102.83 -1.23 L103.66 -0.41 L104.50 0.00 L105.75 0.00 L106.59 -0.41 L107.43 -1.23 M114.95 -5.74 L114.95 0.82 L114.53 2.05 L114.11 2.46 L113.28 2.87 L112.02 2.87 L111.19 2.46 M114.95 -4.51 L114.11 -5.33 L113.28 -5.74 L112.02 -5.74 L111.19 -5.33 L110.35 -4.51 L109.93 -3.28 L109.93 -2.46 L110.35 -1.23 L111.19 -0.41 L112.02 0.00 L113.28 0.00 L114.11 -0.41 L114.95 -1.23 M118.29 -5.74 L118.29 0.00 M118.29 -3.28 L118.71 -4.51 L119.55 -5.33 L120.38 -5.74 L121.64 -5.74 M123.31 -3.28 L128.33 -3.28 L128.33 -4.10 L127.91 -4.92 L127.49 -5.33 L126.65 -5.74 L125.40 -5.74 L124.56 -5.33 L123.73 -4.51 L123.31 -3.28 L123.31 -2.46 L123.73 -1.23 L124.56 -0.41 L125.40 0.00 L126.65 0.00 L127.49 -0.41 L128.33 -1.23 M130.83 -3.28 L135.85 -3.28 L135.85 -4.10 L135.43 -4.92 L135.01 -5.33 L134.18 -5.74 L132.92 -5.74 L132.09 -5.33 L131.25 -4.51 L130.83 -3.28 L130.83 -2.46 L131.25 -1.23 L132.09 -0.41 L132.92 0.00 L134.18 0.00 L135.01 -0.41 L135.85 -1.23 M145.46 -8.61 L145.46 0.00 M151.32 -8.61 L145.46 -2.87 M147.55 -4.92 L151.32 0.00" class="h"/></g><path d="M7.50 455.04 L7.50 460.50 M7.50 455.04 L10.77 455.04 M7.50 457.64 L9.51 457.64 M12.03 456.86 L12.03 460.50 M12.03 458.42 L12.29 457.64 L12.79 457.12 L13.29 456.86 L14.05 456.86 M15.06 455.04 L15.31 455.30 L15.56 455.04 L15.31 454.78 L15.06 455.04 M15.31 456.86 L15.31 460.50 M21.36 455.04 L21.36 460.50 M21.36 455.04 L24.89 460.50 M24.89 455.04 L24.89 460.50 M27.91 456.86 L27.41 457.12 L26.90 457.64 L26.65 458.42 L26.65 458.94 L26.90 459.72 L27.41 460.24 L27.91 460.50 L28.67 460.50 L29.17 460.24 L29.67 459.72 L29.93 458.94 L29.93 458.42 L29.67 457.64 L29.17 457.12 L28.67 456.86 L27.91 456.86 M31.19 456.86 L32.70 460.50 M34.21 456.86 L32.70 460.50 M44.79 455.04 L44.04 455.30 L43.79 455.82 L43.79 456.34 L44.04 456.86 L44.54 457.12 L45.55 457.38 L46.31 457.64 L46.81 458.16 L47.06 458.68 L47.06 459.46 L46.81 459.98 L46.56 460.24 L45.80 460.50 L44.79 460.50 L44.04 460.24 L43.79 459.98 L43.53 459.46 L43.53 458.68 L43.79 458.16 L44.29 457.64 L45.05 457.38 L46.05 457.12 L46.56 456.86 L46.81 456.34 L46.81 455.82 L46.56 455.30 L45.80 455.04 L44.79 455.04 M52.86 456.34 L52.86 456.08 L53.11 455.56 L53.36 455.30 L53.87 455.04 L54.87 455.04 L55.38 455.30 L55.63 455.56 L55.88 456.08 L55.88 456.60 L55.63 457.12 L55.13 457.90 L52.61 460.50 L56.13 460.50 M59.16 455.04 L58.40 455.30 L57.90 456.08 L57.65 457.38 L57.65 458.16 L57.90 459.46 L58.40 460.24 L59.16 460.50 L59.66 460.50 L60.42 460.24 L60.92 459.46 L61.17 458.16 L61.17 457.38 L60.92 456.08 L60.42 455.30 L59.66 455.04 L59.16 455.04 M63.19 456.86 L62.94 457.12 L63.19 457.38 L63.44 457.12 L63.19 456.86 M63.19 459.98 L62.94 460.24 L63.19 460.50 L63.44 460.24 L63.19 459.98 M65.46 456.34 L65.46 456.08 L65.71 455.56 L65.96 455.30 L66.47 455.04 L67.47 455.04 L67.98 455.30 L68.23 455.56 L68.48 456.08 L68.48 456.60 L68.23 457.12 L67.73 457.90 L65.21 460.50 L68.73 460.50 M72.77 455.04 L70.25 458.68 L74.03 458.68 M72.77 455.04 L72.77 460.50 M75.79 456.86 L75.54 457.12 L75.79 457.38 L76.04 457.12 L75.79 456.86 M75.79 459.98 L75.54 460.24 L75.79 460.50 L76.04 460.24 L75.79 459.98 M79.32 455.04 L78.56 455.30 L78.06 456.08 L77.81 457.38 L77.81 458.16 L78.06 459.46 L78.56 460.24 L79.32 460.50 L79.82 460.50 L80.58 460.24 L81.08 459.46 L81.33 458.16 L81.33 457.38 L81.08 456.08 L80.58 455.30 L79.82 455.04 L79.32 455.04 M84.11 455.04 L83.35 455.30 L83.10 455.82 L83.10 456.34 L83.35 456.86 L83.85 457.12 L84.86 457.38 L85.62 457.64 L86.12 458.16 L86.37 458.68 L86.37 459.46 L86.12 459.98 L85.87 460.24 L85.11 460.50 L84.11 460.50 L83.35 460.24 L83.10 459.98 L82.85 459.46 L82.85 458.68 L83.10 458.16 L83.60 457.64 L84.36 457.38 L85.37 457.12 L85.87 456.86 L86.12 456.34 L86.12 455.82 L85.87 455.30 L85.11 455.04 L84.11 455.04 M92.17 456.34 L92.17 456.08 L92.42 455.56 L92.67 455.30 L93.18 455.04 L94.19 455.04 L94.69 455.30 L94.94 455.56 L95.19 456.08 L95.19 456.60 L94.94 457.12 L94.44 457.90 L91.92 460.50 L95.45 460.50 M98.47 455.04 L97.71 455.30 L97.21 456.08 L96.96 457.38 L96.96 458.16 L97.21 459.46 L97.71 460.24 L98.47 460.50 L98.97 460.50 L99.73 460.24 L100.23 459.46 L100.49 458.16 L100.49 457.38 L100.23 456.08 L99.73 455.30 L98.97 455.04 L98.47 455.04 M102.75 456.08 L103.26 455.82 L104.01 455.04 L104.01 460.50 M107.54 455.04 L110.31 455.04 L108.80 457.12 L109.56 457.12 L110.06 457.38 L110.31 457.64 L110.57 458.42 L110.57 458.94 L110.31 459.72 L109.81 460.24 L109.05 460.50 L108.30 460.50 L107.54 460.24 L107.29 459.98 L107.04 459.46" class="h"/><path d="M7.50 469.04 L7.50 474.50 M7.50 469.04 L9.78 469.04 L10.54 469.30 L10.79 469.56 L11.04 470.08 L11.04 470.60 L10.79 471.12 L10.54 471.38 L9.78 471.64 M7.50 471.64 L9.78 471.64 L10.54 471.90 L10.79 472.16 L11.04 472.68 L11.04 473.46 L10.79 473.98 L10.54 474.24 L9.78 474.50 L7.50 474.50 M15.60 470.86 L15.60 474.50 M15.60 471.64 L15.09 471.12 L14.59 470.86 L13.83 470.86 L13.32 471.12 L12.82 471.64 L12.56 472.42 L12.56 472.94 L12.82 473.72 L13.32 474.24 L13.83 474.50 L14.59 474.50 L15.09 474.24 L15.60 473.72 M17.88 469.04 L17.88 473.46 L18.13 474.24 L18.63 474.50 L19.14 474.50 M17.12 470.86 L18.89 470.86 M20.91 469.04 L20.91 473.46 L21.16 474.24 L21.67 474.50 L22.18 474.50 M20.15 470.86 L21.92 470.86 M23.44 472.42 L26.48 472.42 L26.48 471.90 L26.22 471.38 L25.97 471.12 L25.47 470.86 L24.71 470.86 L24.20 471.12 L23.69 471.64 L23.44 472.42 L23.44 472.94 L23.69 473.72 L24.20 474.24 L24.71 474.50 L25.47 474.50 L25.97 474.24 L26.48 473.72 M28.25 469.04 L28.25 474.50 M30.27 469.04 L30.27 474.50 M32.04 472.42 L35.08 472.42 L35.08 471.90 L34.83 471.38 L34.57 471.12 L34.07 470.86 L33.31 470.86 L32.80 471.12 L32.30 471.64 L32.04 472.42 L32.04 472.94 L32.30 473.72 L32.80 474.24 L33.31 474.50 L34.07 474.50 L34.57 474.24 L35.08 473.72 M40.90 469.04 L40.90 474.50 M40.90 469.04 L43.18 469.04 L43.93 469.30 L44.19 469.56 L44.44 470.08 L44.44 470.86 L44.19 471.38 L43.93 471.64 L43.18 471.90 L40.90 471.90 M48.99 470.86 L48.99 474.50 M48.99 471.64 L48.49 471.12 L47.98 470.86 L47.22 470.86 L46.72 471.12 L46.21 471.64 L45.96 472.42 L45.96 472.94 L46.21 473.72 L46.72 474.24 L47.22 474.50 L47.98 474.50 L48.49 474.24 L48.99 473.72 M53.80 471.64 L53.30 471.12 L52.79 470.86 L52.03 470.86 L51.52 471.12 L51.02 471.64 L50.77 472.42 L50.77 472.94 L51.02 473.72 L51.52 474.24 L52.03 474.50 L52.79 474.50 L53.30 474.24 L53.80 473.72 M55.32 469.04 L55.57 469.30 L55.83 469.04 L55.57 468.78 L55.32 469.04 M55.57 470.86 L55.57 474.50 M59.11 469.04 L58.61 469.04 L58.10 469.30 L57.85 470.08 L57.85 474.50 M57.09 470.86 L58.86 470.86 M60.38 469.04 L60.63 469.30 L60.89 469.04 L60.63 468.78 L60.38 469.04 M60.63 470.86 L60.63 474.50 M65.44 471.64 L64.93 471.12 L64.43 470.86 L63.67 470.86 L63.16 471.12 L62.66 471.64 L62.40 472.42 L62.40 472.94 L62.66 473.72 L63.16 474.24 L63.67 474.50 L64.43 474.50 L64.93 474.24 L65.44 473.72 M71.26 469.04 L71.26 474.50 M71.26 469.04 L74.80 474.50 M74.80 469.04 L74.80 474.50 M77.84 470.86 L77.33 471.12 L76.82 471.64 L76.57 472.42 L76.57 472.94 L76.82 473.72 L77.33 474.24 L77.84 474.50 L78.59 474.50 L79.10 474.24 L79.61 473.72 L79.86 472.94 L79.86 472.42 L79.61 471.64 L79.10 471.12 L78.59 470.86 L77.84 470.86 M81.63 470.86 L81.63 474.50 M81.63 472.42 L81.88 471.64 L82.39 471.12 L82.90 470.86 L83.66 470.86 M85.17 469.04 L85.17 473.46 L85.43 474.24 L85.93 474.50 L86.44 474.50 M84.41 470.86 L86.19 470.86 M87.96 469.04 L87.96 474.50 M87.96 471.90 L88.71 471.12 L89.22 470.86 L89.98 470.86 L90.49 471.12 L90.74 471.90 L90.74 474.50 M92.51 470.86 L93.52 474.50 M94.53 470.86 L93.52 474.50 M94.53 470.86 L95.55 474.50 M96.56 470.86 L95.55 474.50 M98.08 472.42 L101.11 472.42 L101.11 471.90 L100.86 471.38 L100.61 471.12 L100.10 470.86 L99.34 470.86 L98.83 471.12 L98.33 471.64 L98.08 472.42 L98.08 472.94 L98.33 473.72 L98.83 474.24 L99.34 474.50 L100.10 474.50 L100.61 474.24 L101.11 473.72 M105.41 471.64 L105.16 471.12 L104.40 470.86 L103.64 470.86 L102.88 471.12 L102.63 471.64 L102.88 472.16 L103.39 472.42 L104.65 472.68 L105.16 472.94 L105.41 473.46 L105.41 473.72 L105.16 474.24 L104.40 474.50 L103.64 474.50 L102.88 474.24 L102.63 473.72 M107.44 469.04 L107.44 473.46 L107.69 474.24 L108.20 474.50 L108.70 474.50 M106.68 470.86 L108.45 470.86 M114.27 469.04 L114.27 474.50 M114.27 469.04 L117.81 474.50 M117.81 469.04 L117.81 474.50 M122.62 470.86 L122.62 474.50 M122.62 471.64 L122.11 471.12 L121.60 470.86 L120.85 470.86 L120.34 471.12 L119.83 471.64 L119.58 472.42 L119.58 472.94 L119.83 473.72 L120.34 474.24 L120.85 474.50 L121.60 474.50 L122.11 474.24 L122.62 473.72 M124.89 469.04 L124.89 473.46 L125.15 474.24 L125.65 474.50 L126.16 474.50 M124.13 470.86 L125.91 470.86 M127.42 469.04 L127.68 469.30 L127.93 469.04 L127.68 468.78 L127.42 469.04 M127.68 470.86 L127.68 474.50 M130.71 470.86 L130.21 471.12 L129.70 471.64 L129.45 472.42 L129.45 472.94 L129.70 473.72 L130.21 474.24 L130.71 474.50 L131.47 474.50 L131.98 474.24 L132.48 473.72 L132.74 472.94 L132.74 472.42 L132.48 471.64 L131.98 471.12 L131.47 470.86 L130.71 470.86 M134.51 470.86 L134.51 474.50 M134.51 471.90 L135.27 471.12 L135.77 470.86 L136.53 470.86 L137.04 471.12 L137.29 471.90 L137.29 474.50 M142.10 470.86 L142.10 474.50 M142.10 471.64 L141.59 471.12 L141.09 470.86 L140.33 470.86 L139.82 471.12 L139.31 471.64 L139.06 472.42 L139.06 472.94 L139.31 473.72 L139.82 474.24 L140.33 474.50 L141.09 474.50 L141.59 474.24 L142.10 473.72 M144.12 469.04 L144.12 474.50 M150.19 469.04 L150.19 474.50 M150.19 474.50 L153.23 474.50 M157.28 470.86 L157.28 474.50 M157.28 471.64 L156.77 471.12 L156.27 470.86 L155.51 470.86 L155.00 471.12 L154.50 471.64 L154.24 472.42 L154.24 472.94 L154.50 473.72 L155.00 474.24 L155.51 474.50 L156.27 474.50 L156.77 474.24 L157.28 473.72 M159.30 469.04 L159.30 474.50 M159.30 471.64 L159.81 471.12 L160.31 470.86 L161.07 470.86 L161.58 471.12 L162.09 471.64 L162.34 472.42 L162.34 472.94 L162.09 473.72 L161.58 474.24 L161.07 474.50 L160.31 474.50 L159.81 474.24 L159.30 473.72 M165.12 470.86 L164.62 471.12 L164.11 471.64 L163.86 472.42 L163.86 472.94 L164.11 473.72 L164.62 474.24 L165.12 474.50 L165.88 474.50 L166.39 474.24 L166.89 473.72 L167.15 472.94 L167.15 472.42 L166.89 471.64 L166.39 471.12 L165.88 470.86 L165.12 470.86 M168.92 470.86 L168.92 474.50 M168.92 472.42 L169.17 471.64 L169.68 471.12 L170.18 470.86 L170.94 470.86 M174.99 470.86 L174.99 474.50 M174.99 471.64 L174.48 471.12 L173.98 470.86 L173.22 470.86 L172.71 471.12 L172.21 471.64 L171.95 472.42 L171.95 472.94 L172.21 473.72 L172.71 474.24 L173.22 474.50 L173.98 474.50 L174.48 474.24 L174.99 473.72 M177.27 469.04 L177.27 473.46 L177.52 474.24 L178.02 474.50 L178.53 474.50 M176.51 470.86 L178.28 470.86 M181.06 470.86 L180.55 471.12 L180.05 471.64 L179.80 472.42 L179.80 472.94 L180.05 473.72 L180.55 474.24 L181.06 474.50 L181.82 474.50 L182.33 474.24 L182.83 473.72 L183.08 472.94 L183.08 472.42 L182.83 471.64 L182.33 471.12 L181.82 470.86 L181.06 470.86 M184.86 470.86 L184.86 474.50 M184.86 472.42 L185.11 471.64 L185.61 471.12 L186.12 470.86 L186.88 470.86 M187.64 470.86 L189.16 474.50 M190.67 470.86 L189.16 474.50 L188.65 475.54 L188.14 476.06 L187.64 476.32 L187.39 476.32 M192.70 474.24 L192.45 474.50 L192.19 474.24 L192.45 473.98 L192.70 474.24 L192.70 474.76 L192.45 475.28 L192.19 475.54 M200.04 469.04 L198.01 474.50 M200.04 469.04 L202.06 474.50 M198.77 472.68 L201.30 472.68 M203.32 470.86 L203.32 474.50 M203.32 472.42 L203.58 471.64 L204.08 471.12 L204.59 470.86 L205.35 470.86 M206.61 470.86 L206.61 474.50 M206.61 471.90 L207.37 471.12 L207.88 470.86 L208.64 470.86 L209.14 471.12 L209.40 471.90 L209.40 474.50 M209.40 471.90 L210.16 471.12 L210.66 470.86 L211.42 470.86 L211.93 471.12 L212.18 471.90 L212.18 474.50 M218.25 469.04 L218.25 474.50 M218.25 469.04 L220.02 469.04 L220.78 469.30 L221.29 469.82 L221.54 470.34 L221.79 471.12 L221.79 472.42 L221.54 473.20 L221.29 473.72 L220.78 474.24 L220.02 474.50 L218.25 474.50 M226.35 470.86 L226.35 474.50 M226.35 471.64 L225.84 471.12 L225.34 470.86 L224.58 470.86 L224.07 471.12 L223.56 471.64 L223.31 472.42 L223.31 472.94 L223.56 473.72 L224.07 474.24 L224.58 474.50 L225.34 474.50 L225.84 474.24 L226.35 473.72 M228.62 469.04 L228.62 473.46 L228.88 474.24 L229.38 474.50 L229.89 474.50 M227.87 470.86 L229.64 470.86 M234.19 470.86 L234.19 474.50 M234.19 471.64 L233.68 471.12 L233.18 470.86 L232.42 470.86 L231.91 471.12 L231.41 471.64 L231.15 472.42 L231.15 472.94 L231.41 473.72 L231.91 474.24 L232.42 474.50 L233.18 474.50 L233.68 474.24 L234.19 473.72 M241.53 469.04 L239.50 474.50 M241.53 469.04 L243.55 474.50 M240.26 472.68 L242.79 472.68 M244.82 470.86 L244.82 476.32 M244.82 471.64 L245.32 471.12 L245.83 470.86 L246.59 470.86 L247.09 471.12 L247.60 471.64 L247.85 472.42 L247.85 472.94 L247.60 473.72 L247.09 474.24 L246.59 474.50 L245.83 474.50 L245.32 474.24 L244.82 473.72 M249.62 470.86 L249.62 476.32 M249.62 471.64 L250.13 471.12 L250.64 470.86 L251.39 470.86 L251.90 471.12 L252.41 471.64 L252.66 472.42 L252.66 472.94 L252.41 473.72 L251.90 474.24 L251.39 474.50 L250.64 474.50 L250.13 474.24 L249.62 473.72 M254.43 469.04 L254.43 474.50 M256.20 469.04 L256.45 469.30 L256.71 469.04 L256.45 468.78 L256.20 469.04 M256.45 470.86 L256.45 474.50 M261.26 471.64 L260.75 471.12 L260.25 470.86 L259.49 470.86 L258.98 471.12 L258.48 471.64 L258.23 472.42 L258.23 472.94 L258.48 473.72 L258.98 474.24 L259.49 474.50 L260.25 474.50 L260.75 474.24 L261.26 473.72 M265.81 470.86 L265.81 474.50 M265.81 471.64 L265.31 471.12 L264.80 470.86 L264.04 470.86 L263.54 471.12 L263.03 471.64 L262.78 472.42 L262.78 472.94 L263.03 473.72 L263.54 474.24 L264.04 474.50 L264.80 474.50 L265.31 474.24 L265.81 473.72 M268.09 469.04 L268.09 473.46 L268.35 474.24 L268.85 474.50 L269.36 474.50 M267.33 470.86 L269.10 470.86 M270.62 469.04 L270.88 469.30 L271.13 469.04 L270.88 468.78 L270.62 469.04 M270.88 470.86 L270.88 474.50 M273.91 470.86 L273.41 471.12 L272.90 471.64 L272.65 472.42 L272.65 472.94 L272.90 473.72 L273.41 474.24 L273.91 474.50 L274.67 474.50 L275.18 474.24 L275.68 473.72 L275.94 472.94 L275.94 472.42 L275.68 471.64 L275.18 471.12 L274.67 470.86 L273.91 470.86 M277.71 470.86 L277.71 474.50 M277.71 471.90 L278.47 471.12 L278.97 470.86 L279.73 470.86 L280.24 471.12 L280.49 471.90 L280.49 474.50" class="h"/><path d="M472.67 450.04 L472.67 455.50 M474.70 450.04 L474.70 455.50 M474.70 450.04 L476.47 450.04 L477.23 450.30 L477.73 450.82 L477.99 451.34 L478.24 452.12 L478.24 453.42 L477.99 454.20 L477.73 454.72 L477.23 455.24 L476.47 455.50 L474.70 455.50 M480.01 450.04 L480.01 455.50 M480.01 455.50 L483.05 455.50 M487.85 451.86 L489.37 455.50 M490.89 451.86 L489.37 455.50 M492.15 453.42 L495.19 453.42 L495.19 452.90 L494.94 452.38 L494.68 452.12 L494.18 451.86 L493.42 451.86 L492.91 452.12 L492.41 452.64 L492.15 453.42 L492.15 453.94 L492.41 454.72 L492.91 455.24 L493.42 455.50 L494.18 455.50 L494.68 455.24 L495.19 454.72 M496.96 451.86 L496.96 455.50 M496.96 453.42 L497.21 452.64 L497.72 452.12 L498.23 451.86 L498.98 451.86 M502.78 452.64 L502.53 452.12 L501.77 451.86 L501.01 451.86 L500.25 452.12 L500.00 452.64 L500.25 453.16 L500.75 453.42 L502.02 453.68 L502.53 453.94 L502.78 454.46 L502.78 454.72 L502.53 455.24 L501.77 455.50 L501.01 455.50 L500.25 455.24 L500.00 454.72 M504.30 450.04 L504.55 450.30 L504.80 450.04 L504.55 449.78 L504.30 450.04 M504.55 451.86 L504.55 455.50 M507.59 451.86 L507.08 452.12 L506.57 452.64 L506.32 453.42 L506.32 453.94 L506.57 454.72 L507.08 455.24 L507.59 455.50 L508.35 455.50 L508.85 455.24 L509.36 454.72 L509.61 453.94 L509.61 453.42 L509.36 452.64 L508.85 452.12 L508.35 451.86 L507.59 451.86 M511.38 451.86 L511.38 455.50 M511.38 452.90 L512.14 452.12 L512.65 451.86 L513.40 451.86 L513.91 452.12 L514.16 452.90 L514.16 455.50 M516.44 451.86 L516.19 452.12 L516.44 452.38 L516.69 452.12 L516.44 451.86 M516.44 454.98 L516.19 455.24 L516.44 455.50 L516.69 455.24 L516.44 454.98 M525.55 451.86 L525.55 457.32 M525.55 452.64 L525.04 452.12 L524.54 451.86 L523.78 451.86 L523.27 452.12 L522.77 452.64 L522.51 453.42 L522.51 453.94 L522.77 454.72 L523.27 455.24 L523.78 455.50 L524.54 455.50 L525.04 455.24 L525.55 454.72 M530.36 452.64 L529.85 452.12 L529.34 451.86 L528.59 451.86 L528.08 452.12 L527.57 452.64 L527.32 453.42 L527.32 453.94 L527.57 454.72 L528.08 455.24 L528.59 455.50 L529.34 455.50 L529.85 455.24 L530.36 454.72 M532.13 451.86 L532.13 455.50 M532.13 453.42 L532.38 452.64 L532.89 452.12 L533.39 451.86 L534.15 451.86 M538.20 451.86 L538.20 455.50 M538.20 452.64 L537.69 452.12 L537.19 451.86 L536.43 451.86 L535.92 452.12 L535.42 452.64 L535.16 453.42 L535.16 453.94 L535.42 454.72 L535.92 455.24 L536.43 455.50 L537.19 455.50 L537.69 455.24 L538.20 454.72 M543.01 450.04 L543.01 455.50 M543.01 452.64 L542.50 452.12 L541.99 451.86 L541.24 451.86 L540.73 452.12 L540.22 452.64 L539.97 453.42 L539.97 453.94 L540.22 454.72 L540.73 455.24 L541.24 455.50 L541.99 455.50 L542.50 455.24 L543.01 454.72 M545.54 451.08 L546.04 450.82 L546.80 450.04 L546.80 455.50 M550.09 450.04 L550.09 455.50 M553.13 451.86 L552.62 452.12 L552.11 452.64 L551.86 453.42 L551.86 453.94 L552.11 454.72 L552.62 455.24 L553.13 455.50 L553.88 455.50 L554.39 455.24 L554.90 454.72 L555.15 453.94 L555.15 453.42 L554.90 452.64 L554.39 452.12 L553.88 451.86 L553.13 451.86 M556.92 451.86 L556.92 455.50 M556.92 452.90 L557.68 452.12 L558.19 451.86 L558.95 451.86 L559.45 452.12 L559.70 452.90 L559.70 455.50 M564.51 451.86 L564.51 456.02 L564.26 456.80 L564.00 457.06 L563.50 457.32 L562.74 457.32 L562.23 457.06 M564.51 452.64 L564.00 452.12 L563.50 451.86 L562.74 451.86 L562.23 452.12 L561.73 452.64 L561.48 453.42 L561.48 453.94 L561.73 454.72 L562.23 455.24 L562.74 455.50 L563.50 455.50 L564.00 455.24 L564.51 454.72 M565.52 456.02 L569.57 456.02 M570.58 451.86 L570.58 457.32 M570.58 452.64 L571.09 452.12 L571.60 451.86 L572.35 451.86 L572.86 452.12 L573.37 452.64 L573.62 453.42 L573.62 453.94 L573.37 454.72 L572.86 455.24 L572.35 455.50 L571.60 455.50 L571.09 455.24 L570.58 454.72 M575.39 450.04 L575.39 455.50 M578.43 451.86 L577.92 452.12 L577.41 452.64 L577.16 453.42 L577.16 453.94 L577.41 454.72 L577.92 455.24 L578.43 455.50 L579.19 455.50 L579.69 455.24 L580.20 454.72 L580.45 453.94 L580.45 453.42 L580.20 452.64 L579.69 452.12 L579.19 451.86 L578.43 451.86 M582.47 450.04 L582.47 454.46 L582.73 455.24 L583.23 455.50 L583.74 455.50 M581.72 451.86 L583.49 451.86 M587.79 452.64 L587.53 452.12 L586.77 451.86 L586.02 451.86 L585.26 452.12 L585.00 452.64 L585.26 453.16 L585.76 453.42 L587.03 453.68 L587.53 453.94 L587.79 454.46 L587.79 454.72 L587.53 455.24 L586.77 455.50 L586.02 455.50 L585.26 455.24 L585.00 454.72 M589.81 454.98 L589.56 455.24 L589.81 455.50 L590.06 455.24 L589.81 454.98 M592.09 451.86 L592.09 457.32 M592.09 452.64 L592.59 452.12 L593.10 451.86 L593.86 451.86 L594.37 452.12 L594.87 452.64 L595.12 453.42 L595.12 453.94 L594.87 454.72 L594.37 455.24 L593.86 455.50 L593.10 455.50 L592.59 455.24 L592.09 454.72 M596.89 451.86 L596.89 455.50 M596.89 453.42 L597.15 452.64 L597.65 452.12 L598.16 451.86 L598.92 451.86 M601.20 451.86 L600.69 452.12 L600.18 452.64 L599.93 453.42 L599.93 453.94 L600.18 454.72 L600.69 455.24 L601.20 455.50 L601.96 455.50 L602.46 455.24 L602.97 454.72 L603.22 453.94 L603.22 453.42 L602.97 452.64 L602.46 452.12 L601.96 451.86 L601.20 451.86 M605.50 455.24 L605.24 455.50 L604.99 455.24 L605.24 454.98 L605.50 455.24 L605.50 455.76 L605.24 456.28 L604.99 456.54 M607.01 451.86 L608.53 455.50 M610.05 451.86 L608.53 455.50 M616.12 451.08 L616.63 450.82 L617.39 450.04 L617.39 455.50 M620.93 454.98 L620.68 455.24 L620.93 455.50 L621.18 455.24 L620.93 454.98 M623.21 451.34 L623.21 451.08 L623.46 450.56 L623.71 450.30 L624.22 450.04 L625.23 450.04 L625.74 450.30 L625.99 450.56 L626.24 451.08 L626.24 451.60 L625.99 452.12 L625.48 452.90 L622.95 455.50 L626.50 455.50" class="h"/><path d="M512.90 457.04 L512.90 462.50 M512.90 457.04 L514.67 457.04 L515.43 457.30 L515.94 457.82 L516.19 458.34 L516.44 459.12 L516.44 460.42 L516.19 461.20 L515.94 461.72 L515.43 462.24 L514.67 462.50 L512.90 462.50 M521.00 458.86 L521.00 462.50 M521.00 459.64 L520.49 459.12 L519.99 458.86 L519.23 458.86 L518.72 459.12 L518.22 459.64 L517.96 460.42 L517.96 460.94 L518.22 461.72 L518.72 462.24 L519.23 462.50 L519.99 462.50 L520.49 462.24 L521.00 461.72 M523.27 457.04 L523.27 461.46 L523.53 462.24 L524.03 462.50 L524.54 462.50 M522.52 458.86 L524.29 458.86 M525.80 460.42 L528.84 460.42 L528.84 459.90 L528.59 459.38 L528.34 459.12 L527.83 458.86 L527.07 458.86 L526.56 459.12 L526.06 459.64 L525.80 460.42 L525.80 460.94 L526.06 461.72 L526.56 462.24 L527.07 462.50 L527.83 462.50 L528.34 462.24 L528.84 461.72 M530.87 458.86 L530.61 459.12 L530.87 459.38 L531.12 459.12 L530.87 458.86 M530.87 461.98 L530.61 462.24 L530.87 462.50 L531.12 462.24 L530.87 461.98 M537.19 458.34 L537.19 458.08 L537.44 457.56 L537.70 457.30 L538.20 457.04 L539.21 457.04 L539.72 457.30 L539.97 457.56 L540.23 458.08 L540.23 458.60 L539.97 459.12 L539.47 459.90 L536.94 462.50 L540.48 462.50 M543.51 457.04 L542.76 457.30 L542.25 458.08 L542.00 459.38 L542.00 460.16 L542.25 461.46 L542.76 462.24 L543.51 462.50 L544.02 462.50 L544.78 462.24 L545.29 461.46 L545.54 460.16 L545.54 459.38 L545.29 458.08 L544.78 457.30 L544.02 457.04 L543.51 457.04 M547.82 458.08 L548.32 457.82 L549.08 457.04 L549.08 462.50 M552.37 458.34 L552.37 458.08 L552.62 457.56 L552.88 457.30 L553.38 457.04 L554.39 457.04 L554.90 457.30 L555.15 457.56 L555.41 458.08 L555.41 458.60 L555.15 459.12 L554.65 459.90 L552.12 462.50 L555.66 462.50 M561.48 456.00 L556.92 464.32 M564.26 457.04 L563.50 457.30 L563.00 458.08 L562.74 459.38 L562.74 460.16 L563.00 461.46 L563.50 462.24 L564.26 462.50 L564.77 462.50 L565.53 462.24 L566.03 461.46 L566.28 460.16 L566.28 459.38 L566.03 458.08 L565.53 457.30 L564.77 457.04 L564.26 457.04 M570.84 457.04 L568.31 457.04 L568.06 459.38 L568.31 459.12 L569.07 458.86 L569.83 458.86 L570.59 459.12 L571.09 459.64 L571.35 460.42 L571.35 460.94 L571.09 461.72 L570.59 462.24 L569.83 462.50 L569.07 462.50 L568.31 462.24 L568.06 461.98 L567.80 461.46 M577.16 456.00 L572.61 464.32 M578.68 458.34 L578.68 458.08 L578.93 457.56 L579.19 457.30 L579.69 457.04 L580.71 457.04 L581.21 457.30 L581.47 457.56 L581.72 458.08 L581.72 458.60 L581.47 459.12 L580.96 459.90 L578.43 462.50 L581.97 462.50 M586.78 458.86 L586.52 459.64 L586.02 460.16 L585.26 460.42 L585.01 460.42 L584.25 460.16 L583.74 459.64 L583.49 458.86 L583.49 458.60 L583.74 457.82 L584.25 457.30 L585.01 457.04 L585.26 457.04 L586.02 457.30 L586.52 457.82 L586.78 458.86 L586.78 460.16 L586.52 461.46 L586.02 462.24 L585.26 462.50 L584.75 462.50 L584.00 462.24 L583.74 461.72 M592.85 458.34 L592.85 458.08 L593.10 457.56 L593.36 457.30 L593.86 457.04 L594.87 457.04 L595.38 457.30 L595.63 457.56 L595.89 458.08 L595.89 458.60 L595.63 459.12 L595.13 459.90 L592.60 462.50 L596.14 462.50 M598.16 457.04 L600.95 457.04 L599.43 459.12 L600.19 459.12 L600.69 459.38 L600.95 459.64 L601.20 460.42 L601.20 460.94 L600.95 461.72 L600.44 462.24 L599.68 462.50 L598.92 462.50 L598.16 462.24 L597.91 461.98 L597.66 461.46 M603.22 458.86 L602.97 459.12 L603.22 459.38 L603.48 459.12 L603.22 458.86 M603.22 461.98 L602.97 462.24 L603.22 462.50 L603.48 462.24 L603.22 461.98 M608.28 457.04 L605.75 457.04 L605.50 459.38 L605.75 459.12 L606.51 458.86 L607.27 458.86 L608.03 459.12 L608.54 459.64 L608.79 460.42 L608.79 460.94 L608.54 461.72 L608.03 462.24 L607.27 462.50 L606.51 462.50 L605.75 462.24 L605.50 461.98 L605.25 461.46 M613.60 457.82 L613.34 457.30 L612.58 457.04 L612.08 457.04 L611.32 457.30 L610.81 458.08 L610.56 459.38 L610.56 460.68 L610.81 461.72 L611.32 462.24 L612.08 462.50 L612.33 462.50 L613.09 462.24 L613.60 461.72 L613.85 460.94 L613.85 460.68 L613.60 459.90 L613.09 459.38 L612.33 459.12 L612.08 459.12 L611.32 459.38 L610.81 459.90 L610.56 460.68 M615.87 458.86 L615.62 459.12 L615.87 459.38 L616.13 459.12 L615.87 458.86 M615.87 461.98 L615.62 462.24 L615.87 462.50 L616.13 462.24 L615.87 461.98 M619.41 457.04 L618.66 457.30 L618.15 458.08 L617.90 459.38 L617.90 460.16 L618.15 461.46 L618.66 462.24 L619.41 462.50 L619.92 462.50 L620.68 462.24 L621.19 461.46 L621.44 460.16 L621.44 459.38 L621.19 458.08 L620.68 457.30 L619.92 457.04 L619.41 457.04 M624.22 457.04 L623.46 457.30 L623.21 457.82 L623.21 458.34 L623.46 458.86 L623.97 459.12 L624.98 459.38 L625.74 459.64 L626.25 460.16 L626.50 460.68 L626.50 461.46 L626.25 461.98 L625.99 462.24 L625.23 462.50 L624.22 462.50 L623.46 462.24 L623.21 461.98 L622.96 461.46 L622.96 460.68 L623.21 460.16 L623.72 459.64 L624.48 459.38 L625.49 459.12 L625.99 458.86 L626.25 458.34 L626.25 457.82 L625.99 457.30 L625.23 457.04 L624.22 457.04" class="h"/><path d="M397.79 464.04 L397.79 469.50 M397.79 464.04 L399.56 464.04 L400.32 464.30 L400.83 464.82 L401.08 465.34 L401.33 466.12 L401.33 467.42 L401.08 468.20 L400.83 468.72 L400.32 469.24 L399.56 469.50 L397.79 469.50 M405.89 465.86 L405.89 469.50 M405.89 466.64 L405.38 466.12 L404.88 465.86 L404.12 465.86 L403.61 466.12 L403.10 466.64 L402.85 467.42 L402.85 467.94 L403.10 468.72 L403.61 469.24 L404.12 469.50 L404.88 469.50 L405.38 469.24 L405.89 468.72 M408.16 464.04 L408.16 468.46 L408.42 469.24 L408.92 469.50 L409.43 469.50 M407.41 465.86 L409.18 465.86 M413.73 465.86 L413.73 469.50 M413.73 466.64 L413.22 466.12 L412.72 465.86 L411.96 465.86 L411.45 466.12 L410.95 466.64 L410.69 467.42 L410.69 467.94 L410.95 468.72 L411.45 469.24 L411.96 469.50 L412.72 469.50 L413.22 469.24 L413.73 468.72 M419.30 465.86 L420.81 469.50 M422.33 465.86 L420.81 469.50 M423.60 467.42 L426.63 467.42 L426.63 466.90 L426.38 466.38 L426.13 466.12 L425.62 465.86 L424.86 465.86 L424.36 466.12 L423.85 466.64 L423.60 467.42 L423.60 467.94 L423.85 468.72 L424.36 469.24 L424.86 469.50 L425.62 469.50 L426.13 469.24 L426.63 468.72 M428.40 465.86 L428.40 469.50 M428.40 467.42 L428.66 466.64 L429.16 466.12 L429.67 465.86 L430.43 465.86 M434.22 466.64 L433.97 466.12 L433.21 465.86 L432.45 465.86 L431.69 466.12 L431.44 466.64 L431.69 467.16 L432.20 467.42 L433.46 467.68 L433.97 467.94 L434.22 468.46 L434.22 468.72 L433.97 469.24 L433.21 469.50 L432.45 469.50 L431.69 469.24 L431.44 468.72 M435.74 464.04 L436.00 464.30 L436.25 464.04 L436.00 463.78 L435.74 464.04 M436.00 465.86 L436.00 469.50 M439.03 465.86 L438.52 466.12 L438.02 466.64 L437.77 467.42 L437.77 467.94 L438.02 468.72 L438.52 469.24 L439.03 469.50 L439.79 469.50 L440.30 469.24 L440.80 468.72 L441.05 467.94 L441.05 467.42 L440.80 466.64 L440.30 466.12 L439.79 465.86 L439.03 465.86 M442.83 465.86 L442.83 469.50 M442.83 466.90 L443.58 466.12 L444.09 465.86 L444.85 465.86 L445.36 466.12 L445.61 466.90 L445.61 469.50 M447.89 465.86 L447.63 466.12 L447.89 466.38 L448.14 466.12 L447.89 465.86 M447.89 468.98 L447.63 469.24 L447.89 469.50 L448.14 469.24 L447.89 468.98 M455.22 463.00 L455.22 470.54 M456.23 463.00 L456.23 470.54 M457.50 464.82 L456.99 464.30 L456.23 464.04 L455.22 464.04 L454.46 464.30 L453.96 464.82 L453.96 465.34 L454.21 465.86 L454.46 466.12 L454.97 466.38 L456.49 466.90 L456.99 467.16 L457.25 467.42 L457.50 467.94 L457.50 468.72 L456.99 469.24 L456.23 469.50 L455.22 469.50 L454.46 469.24 L453.96 468.72 M462.56 464.82 L462.05 464.30 L461.29 464.04 L460.28 464.04 L459.52 464.30 L459.02 464.82 L459.02 465.34 L459.27 465.86 L459.52 466.12 L460.03 466.38 L461.55 466.90 L462.05 467.16 L462.31 467.42 L462.56 467.94 L462.56 468.72 L462.05 469.24 L461.29 469.50 L460.28 469.50 L459.52 469.24 L459.02 468.72 M464.58 464.04 L464.58 468.46 L464.84 469.24 L465.34 469.50 L465.85 469.50 M463.82 465.86 L465.60 465.86 M470.15 465.86 L470.15 469.50 M470.15 466.64 L469.64 466.12 L469.14 465.86 L468.38 465.86 L467.87 466.12 L467.37 466.64 L467.11 467.42 L467.11 467.94 L467.37 468.72 L467.87 469.24 L468.38 469.50 L469.14 469.50 L469.64 469.24 L470.15 468.72 M472.43 464.04 L472.43 468.46 L472.68 469.24 L473.19 469.50 L473.69 469.50 M471.67 465.86 L473.44 465.86 M474.96 467.42 L477.99 467.42 L477.99 466.90 L477.74 466.38 L477.49 466.12 L476.98 465.86 L476.22 465.86 L475.72 466.12 L475.21 466.64 L474.96 467.42 L474.96 467.94 L475.21 468.72 L475.72 469.24 L476.22 469.50 L476.98 469.50 L477.49 469.24 L477.99 468.72 M480.02 465.86 L479.76 466.12 L480.02 466.38 L480.27 466.12 L480.02 465.86 M480.02 468.98 L479.76 469.24 L480.02 469.50 L480.27 469.24 L480.02 468.98 M485.84 465.86 L487.35 469.50 M488.87 465.86 L487.35 469.50 M493.17 465.86 L493.17 469.50 M493.17 466.64 L492.67 466.12 L492.16 465.86 L491.40 465.86 L490.90 466.12 L490.39 466.64 L490.14 467.42 L490.14 467.94 L490.39 468.72 L490.90 469.24 L491.40 469.50 L492.16 469.50 L492.67 469.24 L493.17 468.72 M495.20 465.86 L495.20 471.32 M495.20 466.64 L495.70 466.12 L496.21 465.86 L496.97 465.86 L497.47 466.12 L497.98 466.64 L498.23 467.42 L498.23 467.94 L497.98 468.72 L497.47 469.24 L496.97 469.50 L496.21 469.50 L495.70 469.24 L495.20 468.72 M500.00 467.16 L504.56 467.16 M509.37 465.86 L509.37 471.32 M509.37 466.64 L508.86 466.12 L508.35 465.86 L507.59 465.86 L507.09 466.12 L506.58 466.64 L506.33 467.42 L506.33 467.94 L506.58 468.72 L507.09 469.24 L507.59 469.50 L508.35 469.50 L508.86 469.24 L509.37 468.72 M514.17 466.64 L513.67 466.12 L513.16 465.86 L512.40 465.86 L511.89 466.12 L511.39 466.64 L511.14 467.42 L511.14 467.94 L511.39 468.72 L511.89 469.24 L512.40 469.50 L513.16 469.50 L513.67 469.24 L514.17 468.72 M515.94 465.86 L515.94 469.50 M515.94 467.42 L516.20 466.64 L516.70 466.12 L517.21 465.86 L517.97 465.86 M522.01 465.86 L522.01 469.50 M522.01 466.64 L521.51 466.12 L521.00 465.86 L520.24 465.86 L519.74 466.12 L519.23 466.64 L518.98 467.42 L518.98 467.94 L519.23 468.72 L519.74 469.24 L520.24 469.50 L521.00 469.50 L521.51 469.24 L522.01 468.72 M526.82 464.04 L526.82 469.50 M526.82 466.64 L526.32 466.12 L525.81 465.86 L525.05 465.86 L524.54 466.12 L524.04 466.64 L523.79 467.42 L523.79 467.94 L524.04 468.72 L524.54 469.24 L525.05 469.50 L525.81 469.50 L526.32 469.24 L526.82 468.72 M529.35 465.08 L529.86 464.82 L530.62 464.04 L530.62 469.50 M533.91 464.04 L533.91 469.50 M536.94 465.86 L536.44 466.12 L535.93 466.64 L535.68 467.42 L535.68 467.94 L535.93 468.72 L536.44 469.24 L536.94 469.50 L537.70 469.50 L538.21 469.24 L538.71 468.72 L538.97 467.94 L538.97 467.42 L538.71 466.64 L538.21 466.12 L537.70 465.86 L536.94 465.86 M540.74 465.86 L540.74 469.50 M540.74 466.90 L541.50 466.12 L542.00 465.86 L542.76 465.86 L543.27 466.12 L543.52 466.90 L543.52 469.50 M548.33 465.86 L548.33 470.02 L548.07 470.80 L547.82 471.06 L547.31 471.32 L546.56 471.32 L546.05 471.06 M548.33 466.64 L547.82 466.12 L547.31 465.86 L546.56 465.86 L546.05 466.12 L545.54 466.64 L545.29 467.42 L545.29 467.94 L545.54 468.72 L546.05 469.24 L546.56 469.50 L547.31 469.50 L547.82 469.24 L548.33 468.72 M550.35 467.16 L554.90 467.16 M559.71 464.04 L557.18 464.04 L556.93 466.38 L557.18 466.12 L557.94 465.86 L558.70 465.86 L559.46 466.12 L559.96 466.64 L560.22 467.42 L560.22 467.94 L559.96 468.72 L559.46 469.24 L558.70 469.50 L557.94 469.50 L557.18 469.24 L556.93 468.98 L556.68 468.46 M562.24 468.98 L561.99 469.24 L562.24 469.50 L562.50 469.24 L562.24 468.98 M565.02 465.08 L565.53 464.82 L566.29 464.04 L566.29 469.50 M570.84 464.04 L570.09 464.30 L569.58 465.08 L569.33 466.38 L569.33 467.16 L569.58 468.46 L570.09 469.24 L570.84 469.50 L571.35 469.50 L572.11 469.24 L572.62 468.46 L572.87 467.16 L572.87 466.38 L572.62 465.08 L572.11 464.30 L571.35 464.04 L570.84 464.04 M574.64 467.16 L579.19 467.16 M582.48 464.04 L581.72 464.30 L581.22 465.08 L580.96 466.38 L580.96 467.16 L581.22 468.46 L581.72 469.24 L582.48 469.50 L582.99 469.50 L583.75 469.24 L584.25 468.46 L584.51 467.16 L584.51 466.38 L584.25 465.08 L583.75 464.30 L582.99 464.04 L582.48 464.04 M586.53 468.98 L586.28 469.24 L586.53 469.50 L586.78 469.24 L586.53 468.98 M591.34 466.64 L591.08 466.12 L590.33 465.86 L589.57 465.86 L588.81 466.12 L588.55 466.64 L588.81 467.16 L589.31 467.42 L590.58 467.68 L591.08 467.94 L591.34 468.46 L591.34 468.72 L591.08 469.24 L590.33 469.50 L589.57 469.50 L588.81 469.24 L588.55 468.72 M594.12 465.86 L593.61 466.12 L593.11 466.64 L592.86 467.42 L592.86 467.94 L593.11 468.72 L593.61 469.24 L594.12 469.50 L594.88 469.50 L595.38 469.24 L595.89 468.72 L596.14 467.94 L596.14 467.42 L595.89 466.64 L595.38 466.12 L594.88 465.86 L594.12 465.86 M597.91 464.04 L597.91 469.50 M602.72 464.04 L600.19 464.04 L599.94 466.38 L600.19 466.12 L600.95 465.86 L601.71 465.86 L602.47 466.12 L602.97 466.64 L603.23 467.42 L603.23 467.94 L602.97 468.72 L602.47 469.24 L601.71 469.50 L600.95 469.50 L600.19 469.24 L599.94 468.98 L599.69 468.46 M603.99 470.02 L608.03 470.02 M609.55 465.08 L610.06 464.82 L610.82 464.04 L610.82 469.50 M615.37 464.04 L614.61 464.30 L614.11 465.08 L613.85 466.38 L613.85 467.16 L614.11 468.46 L614.61 469.24 L615.37 469.50 L615.88 469.50 L616.64 469.24 L617.14 468.46 L617.40 467.16 L617.40 466.38 L617.14 465.08 L616.64 464.30 L615.88 464.04 L615.37 464.04 M624.23 463.00 L624.23 470.54 M625.24 463.00 L625.24 470.54 M626.50 464.82 L626.00 464.30 L625.24 464.04 L624.23 464.04 L623.47 464.30 L622.96 464.82 L622.96 465.34 L623.21 465.86 L623.47 466.12 L623.97 466.38 L625.49 466.90 L626.00 467.16 L626.25 467.42 L626.50 467.94 L626.50 468.72 L626.00 469.24 L625.24 469.50 L624.23 469.50 L623.47 469.24 L622.96 468.72" class="h"/><path d="M548.81 471.04 L548.81 476.50 M548.81 471.04 L550.58 471.04 L551.34 471.30 L551.85 471.82 L552.10 472.34 L552.35 473.12 L552.35 474.42 L552.10 475.20 L551.85 475.72 L551.34 476.24 L550.58 476.50 L548.81 476.50 M556.91 472.86 L556.91 476.50 M556.91 473.64 L556.40 473.12 L555.90 472.86 L555.14 472.86 L554.63 473.12 L554.12 473.64 L553.87 474.42 L553.87 474.94 L554.12 475.72 L554.63 476.24 L555.14 476.50 L555.90 476.50 L556.40 476.24 L556.91 475.72 M559.18 471.04 L559.18 475.46 L559.44 476.24 L559.94 476.50 L560.45 476.50 M558.43 472.86 L560.20 472.86 M561.71 474.42 L564.75 474.42 L564.75 473.90 L564.50 473.38 L564.25 473.12 L563.74 472.86 L562.98 472.86 L562.47 473.12 L561.97 473.64 L561.71 474.42 L561.71 474.94 L561.97 475.72 L562.47 476.24 L562.98 476.50 L563.74 476.50 L564.25 476.24 L564.75 475.72 M566.77 472.86 L566.52 473.12 L566.77 473.38 L567.03 473.12 L566.77 472.86 M566.77 475.98 L566.52 476.24 L566.77 476.50 L567.03 476.24 L566.77 475.98 M574.11 471.04 L573.35 471.30 L573.10 471.82 L573.10 472.34 L573.35 472.86 L573.86 473.12 L574.87 473.38 L575.63 473.64 L576.14 474.16 L576.39 474.68 L576.39 475.46 L576.14 475.98 L575.88 476.24 L575.12 476.50 L574.11 476.50 L573.35 476.24 L573.10 475.98 L572.85 475.46 L572.85 474.68 L573.10 474.16 L573.61 473.64 L574.37 473.38 L575.38 473.12 L575.88 472.86 L576.14 472.34 L576.14 471.82 L575.88 471.30 L575.12 471.04 L574.11 471.04 M578.16 474.16 L582.71 474.16 M584.74 471.04 L584.74 476.50 M584.74 471.04 L588.28 476.50 M588.28 471.04 L588.28 476.50 M591.32 472.86 L590.81 473.12 L590.30 473.64 L590.05 474.42 L590.05 474.94 L590.30 475.72 L590.81 476.24 L591.32 476.50 L592.07 476.50 L592.58 476.24 L593.09 475.72 L593.34 474.94 L593.34 474.42 L593.09 473.64 L592.58 473.12 L592.07 472.86 L591.32 472.86 M594.60 472.86 L596.12 476.50 M597.64 472.86 L596.12 476.50 M599.16 474.16 L603.71 474.16 M605.74 472.34 L605.74 472.08 L605.99 471.56 L606.24 471.30 L606.75 471.04 L607.76 471.04 L608.27 471.30 L608.52 471.56 L608.77 472.08 L608.77 472.60 L608.52 473.12 L608.01 473.90 L605.48 476.50 L609.03 476.50 M612.06 471.04 L611.30 471.30 L610.80 472.08 L610.54 473.38 L610.54 474.16 L610.80 475.46 L611.30 476.24 L612.06 476.50 L612.57 476.50 L613.33 476.24 L613.83 475.46 L614.09 474.16 L614.09 473.38 L613.83 472.08 L613.33 471.30 L612.57 471.04 L612.06 471.04 M616.36 472.08 L616.87 471.82 L617.63 471.04 L617.63 476.50 M621.17 471.04 L623.95 471.04 L622.43 473.12 L623.19 473.12 L623.70 473.38 L623.95 473.64 L624.21 474.42 L624.21 474.94 L623.95 475.72 L623.45 476.24 L622.69 476.50 L621.93 476.50 L621.17 476.24 L620.92 475.98 L620.66 475.46 M626.48 476.24 L626.23 476.50 L625.98 476.24 L626.23 475.98 L626.48 476.24 L626.48 476.76 L626.23 477.28 L625.98 477.54" class="h"/>
</g>
</svg>
</body></html>
